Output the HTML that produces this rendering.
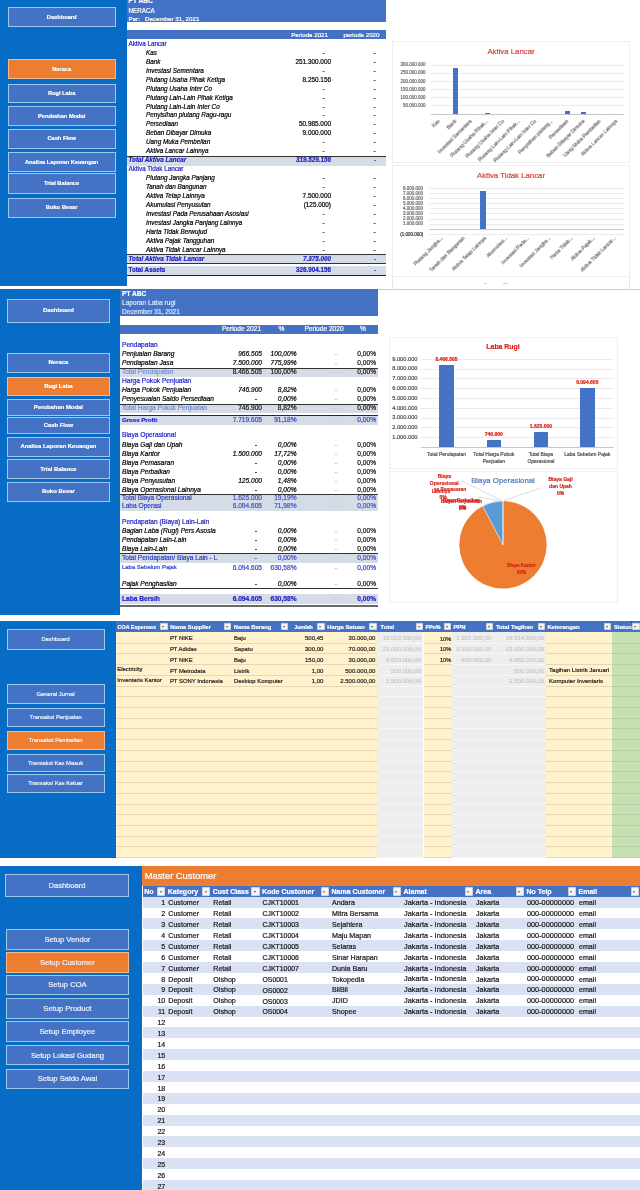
<!DOCTYPE html>
<html><head><meta charset="utf-8"><title>Dashboard</title>
<style>
html,body{margin:0;padding:0;background:#fff;}
body{width:640px;height:1190px;position:relative;overflow:hidden;font-family:"Liberation Sans",sans-serif;}
#p{position:absolute;left:0;top:0;width:640px;height:1190px;overflow:hidden;background:#fff;}
#p div,#p svg{position:absolute;}
.t{white-space:nowrap;filter:blur(0.22px);-webkit-text-stroke:0.2px;}
</style></head><body><div id="p">
<div style="left:0.00px;top:0.00px;width:126.70px;height:285.50px;background:#076cc5;"></div>
<div style="left:7.50px;top:7.00px;width:108.30px;height:20.00px;background:#4472c4;box-shadow:inset 0 0 0 1px #9fc8ee;"></div>
<div class="t" style="top:13.58px;font-size:5.7px;line-height:6.84px;color:#fff;font-weight:bold;left:7.50px;width:108.3px;text-align:center;">Dashboard</div>
<div style="left:7.50px;top:59.30px;width:108.30px;height:20.00px;background:#ed7d31;box-shadow:inset 0 0 0 1px #f6b98a;"></div>
<div class="t" style="top:65.88px;font-size:5.7px;line-height:6.84px;color:#fff;font-weight:bold;left:7.50px;width:108.3px;text-align:center;">Neraca</div>
<div style="left:7.50px;top:83.50px;width:108.30px;height:19.00px;background:#4472c4;box-shadow:inset 0 0 0 1px #9fc8ee;"></div>
<div class="t" style="top:89.58px;font-size:5.7px;line-height:6.84px;color:#fff;font-weight:bold;left:7.50px;width:108.3px;text-align:center;">Rugi Laba</div>
<div style="left:7.50px;top:106.20px;width:108.30px;height:20.00px;background:#4472c4;box-shadow:inset 0 0 0 1px #9fc8ee;"></div>
<div class="t" style="top:112.78px;font-size:5.7px;line-height:6.84px;color:#fff;font-weight:bold;left:7.50px;width:108.3px;text-align:center;">Perubahan Modal</div>
<div style="left:7.50px;top:128.60px;width:108.30px;height:20.00px;background:#4472c4;box-shadow:inset 0 0 0 1px #9fc8ee;"></div>
<div class="t" style="top:135.18px;font-size:5.7px;line-height:6.84px;color:#fff;font-weight:bold;left:7.50px;width:108.3px;text-align:center;">Cash Flow</div>
<div style="left:7.50px;top:151.80px;width:108.30px;height:20.40px;background:#4472c4;box-shadow:inset 0 0 0 1px #9fc8ee;"></div>
<div class="t" style="top:158.58px;font-size:5.7px;line-height:6.84px;color:#fff;font-weight:bold;left:7.50px;width:108.3px;text-align:center;">Analisa Laporan Keuangan</div>
<div style="left:7.50px;top:173.20px;width:108.30px;height:21.00px;background:#4472c4;box-shadow:inset 0 0 0 1px #9fc8ee;"></div>
<div class="t" style="top:180.28px;font-size:5.7px;line-height:6.84px;color:#fff;font-weight:bold;left:7.50px;width:108.3px;text-align:center;">Trial Balance</div>
<div style="left:7.50px;top:197.50px;width:108.30px;height:20.30px;background:#4472c4;box-shadow:inset 0 0 0 1px #9fc8ee;"></div>
<div class="t" style="top:204.23px;font-size:5.7px;line-height:6.84px;color:#fff;font-weight:bold;left:7.50px;width:108.3px;text-align:center;">Buku Besar</div>
<div style="left:126.50px;top:0.00px;width:259.50px;height:22.40px;background:#4472c4;"></div>
<div class="t" style="top:-2.96px;font-size:6.6px;line-height:7.92px;color:#fff;font-weight:bold;left:128.50px;">PT ABC</div>
<div class="t" style="top:6.52px;font-size:6.3px;line-height:7.56px;color:#fff;left:128.50px;">NERACA</div>
<div class="t" style="top:14.58px;font-size:6.2px;line-height:7.44px;color:#fff;left:128.50px;">Per:&nbsp;&nbsp;&nbsp;December 31, 2021</div>
<div style="left:126.50px;top:30.00px;width:259.50px;height:9.40px;background:#4472c4;"></div>
<div class="t" style="top:31.28px;font-size:6.2px;line-height:7.44px;color:#fff;right:312.00px;text-align:right;">Periode 2021</div>
<div class="t" style="top:31.28px;font-size:6.2px;line-height:7.44px;color:#fff;right:260.50px;text-align:right;">periode 2020</div>
<div class="t" style="top:39.82px;font-size:6.3px;line-height:7.56px;color:#1c1cc8;left:128.50px;">Aktiva Lancar</div>
<div class="t" style="top:48.75px;font-size:6.35px;line-height:7.62px;color:#000;font-style:italic;left:146.00px;">Kas</div>
<div class="t" style="top:48.75px;font-size:6.35px;line-height:7.62px;color:#333;right:315.50px;text-align:right;">-</div>
<div class="t" style="top:48.75px;font-size:6.35px;line-height:7.62px;color:#222;right:264.50px;text-align:right;">-</div>
<div class="t" style="top:57.71px;font-size:6.35px;line-height:7.62px;color:#000;font-style:italic;left:146.00px;">Bank</div>
<div class="t" style="top:57.68px;font-size:6.4px;line-height:7.68px;color:#000;right:309.00px;text-align:right;">251.300.000</div>
<div class="t" style="top:57.71px;font-size:6.35px;line-height:7.62px;color:#222;right:264.50px;text-align:right;">-</div>
<div class="t" style="top:66.67px;font-size:6.35px;line-height:7.62px;color:#000;font-style:italic;left:146.00px;">Investasi Sementara</div>
<div class="t" style="top:66.67px;font-size:6.35px;line-height:7.62px;color:#333;right:315.50px;text-align:right;">-</div>
<div class="t" style="top:66.67px;font-size:6.35px;line-height:7.62px;color:#222;right:264.50px;text-align:right;">-</div>
<div class="t" style="top:75.63px;font-size:6.35px;line-height:7.62px;color:#000;font-style:italic;left:146.00px;">Piutang Usaha Pihak Ketiga</div>
<div class="t" style="top:75.60px;font-size:6.4px;line-height:7.68px;color:#000;right:309.00px;text-align:right;">8.250.156</div>
<div class="t" style="top:75.63px;font-size:6.35px;line-height:7.62px;color:#222;right:264.50px;text-align:right;">-</div>
<div class="t" style="top:84.59px;font-size:6.35px;line-height:7.62px;color:#000;font-style:italic;left:146.00px;">Piutang Usaha Inter Co</div>
<div class="t" style="top:84.59px;font-size:6.35px;line-height:7.62px;color:#333;right:315.50px;text-align:right;">-</div>
<div class="t" style="top:84.59px;font-size:6.35px;line-height:7.62px;color:#222;right:264.50px;text-align:right;">-</div>
<div class="t" style="top:93.55px;font-size:6.35px;line-height:7.62px;color:#000;font-style:italic;left:146.00px;">Piutang Lain-Lain Pihak Ketiga</div>
<div class="t" style="top:93.55px;font-size:6.35px;line-height:7.62px;color:#333;right:315.50px;text-align:right;">-</div>
<div class="t" style="top:93.55px;font-size:6.35px;line-height:7.62px;color:#222;right:264.50px;text-align:right;">-</div>
<div class="t" style="top:102.51px;font-size:6.35px;line-height:7.62px;color:#000;font-style:italic;left:146.00px;">Piutang Lain-Lain Inter Co</div>
<div class="t" style="top:102.51px;font-size:6.35px;line-height:7.62px;color:#333;right:315.50px;text-align:right;">-</div>
<div class="t" style="top:102.51px;font-size:6.35px;line-height:7.62px;color:#222;right:264.50px;text-align:right;">-</div>
<div class="t" style="top:111.47px;font-size:6.35px;line-height:7.62px;color:#000;font-style:italic;left:146.00px;">Penyisihan piutang Ragu-ragu</div>
<div class="t" style="top:111.47px;font-size:6.35px;line-height:7.62px;color:#333;right:315.50px;text-align:right;">-</div>
<div class="t" style="top:111.47px;font-size:6.35px;line-height:7.62px;color:#222;right:264.50px;text-align:right;">-</div>
<div class="t" style="top:120.43px;font-size:6.35px;line-height:7.62px;color:#000;font-style:italic;left:146.00px;">Persediaan</div>
<div class="t" style="top:120.40px;font-size:6.4px;line-height:7.68px;color:#000;right:309.00px;text-align:right;">50.985.000</div>
<div class="t" style="top:120.43px;font-size:6.35px;line-height:7.62px;color:#222;right:264.50px;text-align:right;">-</div>
<div class="t" style="top:129.39px;font-size:6.35px;line-height:7.62px;color:#000;font-style:italic;left:146.00px;">Beban Dibayar Dimuka</div>
<div class="t" style="top:129.36px;font-size:6.4px;line-height:7.68px;color:#000;right:309.00px;text-align:right;">9.000.000</div>
<div class="t" style="top:129.39px;font-size:6.35px;line-height:7.62px;color:#222;right:264.50px;text-align:right;">-</div>
<div class="t" style="top:138.35px;font-size:6.35px;line-height:7.62px;color:#000;font-style:italic;left:146.00px;">Uang Muka Pembelian</div>
<div class="t" style="top:138.35px;font-size:6.35px;line-height:7.62px;color:#333;right:315.50px;text-align:right;">-</div>
<div class="t" style="top:138.35px;font-size:6.35px;line-height:7.62px;color:#222;right:264.50px;text-align:right;">-</div>
<div class="t" style="top:147.31px;font-size:6.35px;line-height:7.62px;color:#000;font-style:italic;left:146.00px;">Aktiva Lancar Lainnya</div>
<div class="t" style="top:147.31px;font-size:6.35px;line-height:7.62px;color:#333;right:315.50px;text-align:right;">-</div>
<div class="t" style="top:147.31px;font-size:6.35px;line-height:7.62px;color:#222;right:264.50px;text-align:right;">-</div>
<div style="left:126.60px;top:155.68px;width:259.00px;height:8.90px;background:#d6dce6;border-top:0.7px solid #333;"></div>
<div class="t" style="top:156.30px;font-size:6.3px;line-height:7.56px;color:#1c1cc8;font-weight:bold;font-style:italic;left:128.50px;">Total Aktiva Lancar</div>
<div class="t" style="top:156.30px;font-size:6.3px;line-height:7.56px;color:#1c1cc8;font-weight:bold;font-style:italic;right:309.00px;text-align:right;">319.529.156</div>
<div class="t" style="top:156.42px;font-size:6.1px;line-height:7.32px;color:#1c1cc8;right:264.00px;text-align:right;">-</div>
<div class="t" style="top:165.26px;font-size:6.3px;line-height:7.56px;color:#1c1cc8;left:128.50px;">Aktiva Tidak Lancar</div>
<div class="t" style="top:174.19px;font-size:6.35px;line-height:7.62px;color:#000;font-style:italic;left:146.00px;">Piutang Jangka Panjang</div>
<div class="t" style="top:174.19px;font-size:6.35px;line-height:7.62px;color:#333;right:315.50px;text-align:right;">-</div>
<div class="t" style="top:174.19px;font-size:6.35px;line-height:7.62px;color:#222;right:264.50px;text-align:right;">-</div>
<div class="t" style="top:183.15px;font-size:6.35px;line-height:7.62px;color:#000;font-style:italic;left:146.00px;">Tanah dan Bangunan</div>
<div class="t" style="top:183.15px;font-size:6.35px;line-height:7.62px;color:#333;right:315.50px;text-align:right;">-</div>
<div class="t" style="top:183.15px;font-size:6.35px;line-height:7.62px;color:#222;right:264.50px;text-align:right;">-</div>
<div class="t" style="top:192.11px;font-size:6.35px;line-height:7.62px;color:#000;font-style:italic;left:146.00px;">Aktiva Tetap Lainnya</div>
<div class="t" style="top:192.08px;font-size:6.4px;line-height:7.68px;color:#000;right:309.00px;text-align:right;">7.500.000</div>
<div class="t" style="top:192.11px;font-size:6.35px;line-height:7.62px;color:#222;right:264.50px;text-align:right;">-</div>
<div class="t" style="top:201.07px;font-size:6.35px;line-height:7.62px;color:#000;font-style:italic;left:146.00px;">Akumulasi Penyusutan</div>
<div class="t" style="top:201.04px;font-size:6.4px;line-height:7.68px;color:#000;right:309.00px;text-align:right;">(125.000)</div>
<div class="t" style="top:201.07px;font-size:6.35px;line-height:7.62px;color:#222;right:264.50px;text-align:right;">-</div>
<div class="t" style="top:210.03px;font-size:6.35px;line-height:7.62px;color:#000;font-style:italic;left:146.00px;">Investasi Pada Perusahaan Asosiasi</div>
<div class="t" style="top:210.03px;font-size:6.35px;line-height:7.62px;color:#333;right:315.50px;text-align:right;">-</div>
<div class="t" style="top:210.03px;font-size:6.35px;line-height:7.62px;color:#222;right:264.50px;text-align:right;">-</div>
<div class="t" style="top:218.99px;font-size:6.35px;line-height:7.62px;color:#000;font-style:italic;left:146.00px;">Investasi Jangka Panjang Lainnya</div>
<div class="t" style="top:218.99px;font-size:6.35px;line-height:7.62px;color:#333;right:315.50px;text-align:right;">-</div>
<div class="t" style="top:218.99px;font-size:6.35px;line-height:7.62px;color:#222;right:264.50px;text-align:right;">-</div>
<div class="t" style="top:227.95px;font-size:6.35px;line-height:7.62px;color:#000;font-style:italic;left:146.00px;">Harta Tidak Berwujud</div>
<div class="t" style="top:227.95px;font-size:6.35px;line-height:7.62px;color:#333;right:315.50px;text-align:right;">-</div>
<div class="t" style="top:227.95px;font-size:6.35px;line-height:7.62px;color:#222;right:264.50px;text-align:right;">-</div>
<div class="t" style="top:236.91px;font-size:6.35px;line-height:7.62px;color:#000;font-style:italic;left:146.00px;">Aktiva Pajak Tangguhan</div>
<div class="t" style="top:236.91px;font-size:6.35px;line-height:7.62px;color:#333;right:315.50px;text-align:right;">-</div>
<div class="t" style="top:236.91px;font-size:6.35px;line-height:7.62px;color:#222;right:264.50px;text-align:right;">-</div>
<div class="t" style="top:245.87px;font-size:6.35px;line-height:7.62px;color:#000;font-style:italic;left:146.00px;">Aktiva Tidak Lancar Lainnya</div>
<div class="t" style="top:245.87px;font-size:6.35px;line-height:7.62px;color:#333;right:315.50px;text-align:right;">-</div>
<div class="t" style="top:245.87px;font-size:6.35px;line-height:7.62px;color:#222;right:264.50px;text-align:right;">-</div>
<div style="left:126.60px;top:254.24px;width:259.00px;height:8.90px;background:#d6dce6;border-top:0.7px solid #333;"></div>
<div class="t" style="top:254.86px;font-size:6.3px;line-height:7.56px;color:#1c1cc8;font-weight:bold;font-style:italic;left:128.50px;">Total Aktiva Tidak Lancar</div>
<div class="t" style="top:254.86px;font-size:6.3px;line-height:7.56px;color:#1c1cc8;font-weight:bold;font-style:italic;right:309.00px;text-align:right;">7.375.000</div>
<div class="t" style="top:254.98px;font-size:6.1px;line-height:7.32px;color:#1c1cc8;right:264.00px;text-align:right;">-</div>
<div style="left:126.60px;top:263.30px;width:259.00px;height:2.20px;background:#fff;border-top:0.7px solid #333;"></div>
<div style="left:126.60px;top:265.50px;width:259.00px;height:9.50px;background:#d6dce6;border-bottom:1.2px solid #222;"></div>
<div class="t" style="top:266.22px;font-size:6.3px;line-height:7.56px;color:#1c1cc8;font-weight:bold;left:128.50px;">Total Assets</div>
<div class="t" style="top:266.22px;font-size:6.3px;line-height:7.56px;color:#1c1cc8;font-weight:bold;right:309.00px;text-align:right;">326.904.156</div>
<div class="t" style="top:266.34px;font-size:6.1px;line-height:7.32px;color:#1c1cc8;right:264.00px;text-align:right;">-</div>
<div style="left:391.50px;top:40.50px;width:238.50px;height:122.00px;background:#fff;box-shadow:inset 0 0 0 0.6px #e4e4e4;"></div>
<div class="t" style="top:47.32px;font-size:7.8px;line-height:9.36px;color:#cf453c;left:411.00px;width:200px;text-align:center;">Aktiva Lancar</div>
<div class="t" style="top:62.30px;font-size:4.5px;line-height:5.40px;color:#6a6a6a;right:214.50px;text-align:right;">300.000.000</div>
<div style="left:431.00px;top:64.75px;width:193.00px;height:0.50px;background:#ebebeb;"></div>
<div class="t" style="top:70.43px;font-size:4.5px;line-height:5.40px;color:#6a6a6a;right:214.50px;text-align:right;">250.000.000</div>
<div style="left:431.00px;top:72.88px;width:193.00px;height:0.50px;background:#ebebeb;"></div>
<div class="t" style="top:78.56px;font-size:4.5px;line-height:5.40px;color:#6a6a6a;right:214.50px;text-align:right;">200.000.000</div>
<div style="left:431.00px;top:81.01px;width:193.00px;height:0.50px;background:#ebebeb;"></div>
<div class="t" style="top:86.69px;font-size:4.5px;line-height:5.40px;color:#6a6a6a;right:214.50px;text-align:right;">150.000.000</div>
<div style="left:431.00px;top:89.14px;width:193.00px;height:0.50px;background:#ebebeb;"></div>
<div class="t" style="top:94.82px;font-size:4.5px;line-height:5.40px;color:#6a6a6a;right:214.50px;text-align:right;">100.000.000</div>
<div style="left:431.00px;top:97.27px;width:193.00px;height:0.50px;background:#ebebeb;"></div>
<div class="t" style="top:102.95px;font-size:4.5px;line-height:5.40px;color:#6a6a6a;right:214.50px;text-align:right;">50.000.000</div>
<div style="left:431.00px;top:105.40px;width:193.00px;height:0.50px;background:#ebebeb;"></div>
<div style="left:431.00px;top:113.60px;width:193.00px;height:0.50px;background:#c8c8c8;"></div>
<div style="left:452.62px;top:68.30px;width:5.00px;height:45.50px;background:#4472c4;"></div>
<div style="left:484.79px;top:113.00px;width:5.00px;height:0.80px;background:#4472c4;"></div>
<div style="left:565.21px;top:110.60px;width:5.00px;height:3.20px;background:#4472c4;"></div>
<div style="left:581.29px;top:112.30px;width:5.00px;height:1.50px;background:#4472c4;"></div>
<div class="t" style="right:203.16px;top:117.80px;font-size:5.0px;line-height:6.00px;color:#707070;transform-origin:100% 0;transform:rotate(-45deg);">Kas</div>
<div class="t" style="right:187.07px;top:117.80px;font-size:5.0px;line-height:6.00px;color:#707070;transform-origin:100% 0;transform:rotate(-45deg);">Bank</div>
<div class="t" style="right:170.99px;top:117.80px;font-size:5.0px;line-height:6.00px;color:#707070;transform-origin:100% 0;transform:rotate(-45deg);">Investasi Sementara</div>
<div class="t" style="right:154.91px;top:117.80px;font-size:5.0px;line-height:6.00px;color:#707070;transform-origin:100% 0;transform:rotate(-45deg);">Piutang Usaha Pihak...</div>
<div class="t" style="right:138.82px;top:117.80px;font-size:5.0px;line-height:6.00px;color:#707070;transform-origin:100% 0;transform:rotate(-45deg);">Piutang Usaha Inter Co</div>
<div class="t" style="right:122.74px;top:117.80px;font-size:5.0px;line-height:6.00px;color:#707070;transform-origin:100% 0;transform:rotate(-45deg);">Piutang Lain-Lain Pihak...</div>
<div class="t" style="right:106.66px;top:117.80px;font-size:5.0px;line-height:6.00px;color:#707070;transform-origin:100% 0;transform:rotate(-45deg);">Piutang Lain-Lain Inter Co</div>
<div class="t" style="right:90.58px;top:117.80px;font-size:5.0px;line-height:6.00px;color:#707070;transform-origin:100% 0;transform:rotate(-45deg);">Penyisihan piutang...</div>
<div class="t" style="right:74.49px;top:117.80px;font-size:5.0px;line-height:6.00px;color:#707070;transform-origin:100% 0;transform:rotate(-45deg);">Persediaan</div>
<div class="t" style="right:58.41px;top:117.80px;font-size:5.0px;line-height:6.00px;color:#707070;transform-origin:100% 0;transform:rotate(-45deg);">Beban Dibayar Dimuka</div>
<div class="t" style="right:42.33px;top:117.80px;font-size:5.0px;line-height:6.00px;color:#707070;transform-origin:100% 0;transform:rotate(-45deg);">Uang Muka Pembelian</div>
<div class="t" style="right:26.24px;top:117.80px;font-size:5.0px;line-height:6.00px;color:#707070;transform-origin:100% 0;transform:rotate(-45deg);">Aktiva Lancar Lainnya</div>
<div style="left:391.50px;top:164.50px;width:238.50px;height:112.00px;background:#fff;box-shadow:inset 0 0 0 0.6px #e4e4e4;"></div>
<div class="t" style="top:171.32px;font-size:7.8px;line-height:9.36px;color:#cf453c;left:411.00px;width:200px;text-align:center;">Aktiva Tidak Lancar</div>
<div class="t" style="top:185.50px;font-size:4.5px;line-height:5.40px;color:#6a6a6a;right:217.00px;text-align:right;">8.000.000</div>
<div style="left:429.00px;top:187.95px;width:195.00px;height:0.50px;background:#ebebeb;"></div>
<div class="t" style="top:190.60px;font-size:4.5px;line-height:5.40px;color:#6a6a6a;right:217.00px;text-align:right;">7.000.000</div>
<div style="left:429.00px;top:193.05px;width:195.00px;height:0.50px;background:#ebebeb;"></div>
<div class="t" style="top:195.70px;font-size:4.5px;line-height:5.40px;color:#6a6a6a;right:217.00px;text-align:right;">6.000.000</div>
<div style="left:429.00px;top:198.15px;width:195.00px;height:0.50px;background:#ebebeb;"></div>
<div class="t" style="top:200.80px;font-size:4.5px;line-height:5.40px;color:#6a6a6a;right:217.00px;text-align:right;">5.000.000</div>
<div style="left:429.00px;top:203.25px;width:195.00px;height:0.50px;background:#ebebeb;"></div>
<div class="t" style="top:205.90px;font-size:4.5px;line-height:5.40px;color:#6a6a6a;right:217.00px;text-align:right;">4.000.000</div>
<div style="left:429.00px;top:208.35px;width:195.00px;height:0.50px;background:#ebebeb;"></div>
<div class="t" style="top:211.00px;font-size:4.5px;line-height:5.40px;color:#6a6a6a;right:217.00px;text-align:right;">3.000.000</div>
<div style="left:429.00px;top:213.45px;width:195.00px;height:0.50px;background:#ebebeb;"></div>
<div class="t" style="top:216.10px;font-size:4.5px;line-height:5.40px;color:#6a6a6a;right:217.00px;text-align:right;">2.000.000</div>
<div style="left:429.00px;top:218.55px;width:195.00px;height:0.50px;background:#ebebeb;"></div>
<div class="t" style="top:221.20px;font-size:4.5px;line-height:5.40px;color:#6a6a6a;right:217.00px;text-align:right;">1.000.000</div>
<div style="left:429.00px;top:223.65px;width:195.00px;height:0.50px;background:#ebebeb;"></div>
<div style="left:429.00px;top:228.80px;width:195.00px;height:0.50px;background:#c8c8c8;"></div>
<div class="t" style="top:231.60px;font-size:4.5px;line-height:5.40px;color:#333;right:216.70px;text-align:right;">(1.000.000)</div>
<div style="left:429.00px;top:234.10px;width:195.00px;height:0.50px;background:#ebebeb;"></div>
<div style="left:480.07px;top:191.00px;width:6.20px;height:38.00px;background:#4472c4;"></div>
<div style="left:501.73px;top:229.00px;width:6.20px;height:0.70px;background:#b9c9e8;"></div>
<div class="t" style="right:200.47px;top:235.40px;font-size:5.0px;line-height:6.00px;color:#707070;transform-origin:100% 0;transform:rotate(-45deg);">Piutang Jangka...</div>
<div class="t" style="right:178.80px;top:235.40px;font-size:5.0px;line-height:6.00px;color:#707070;transform-origin:100% 0;transform:rotate(-45deg);">Tanah dan Bangunan</div>
<div class="t" style="right:157.13px;top:235.40px;font-size:5.0px;line-height:6.00px;color:#707070;transform-origin:100% 0;transform:rotate(-45deg);">Aktiva Tetap Lainnya</div>
<div class="t" style="right:135.47px;top:235.40px;font-size:5.0px;line-height:6.00px;color:#707070;transform-origin:100% 0;transform:rotate(-45deg);">Akumulasi...</div>
<div class="t" style="right:113.80px;top:235.40px;font-size:5.0px;line-height:6.00px;color:#707070;transform-origin:100% 0;transform:rotate(-45deg);">Investasi Pada...</div>
<div class="t" style="right:92.13px;top:235.40px;font-size:5.0px;line-height:6.00px;color:#707070;transform-origin:100% 0;transform:rotate(-45deg);">Investasi Jangka...</div>
<div class="t" style="right:70.47px;top:235.40px;font-size:5.0px;line-height:6.00px;color:#707070;transform-origin:100% 0;transform:rotate(-45deg);">Harta Tidak...</div>
<div class="t" style="right:48.80px;top:235.40px;font-size:5.0px;line-height:6.00px;color:#707070;transform-origin:100% 0;transform:rotate(-45deg);">Aktiva Pajak...</div>
<div class="t" style="right:27.13px;top:235.40px;font-size:5.0px;line-height:6.00px;color:#707070;transform-origin:100% 0;transform:rotate(-45deg);">Aktiva Tidak Lancar...</div>
<div style="left:378.00px;top:289.00px;width:262.00px;height:0.70px;background:#cdcdcd;"></div>
<div style="left:391.50px;top:276.00px;width:0.60px;height:13.00px;background:#e6e6e6;"></div>
<div style="left:629.40px;top:276.00px;width:0.60px;height:13.00px;background:#e6e6e6;"></div>
<div style="left:484.00px;top:283.40px;width:3.00px;height:0.60px;background:#d0d0d0;"></div>
<div style="left:503.00px;top:283.40px;width:5.00px;height:0.60px;background:#d0d0d0;"></div>
<div style="left:0.00px;top:289.30px;width:120.30px;height:326.20px;background:#076cc5;"></div>
<div style="left:6.60px;top:299.00px;width:103.60px;height:23.50px;background:#4472c4;box-shadow:inset 0 0 0 1px #9fc8ee;"></div>
<div class="t" style="top:307.21px;font-size:5.9px;line-height:7.08px;color:#fff;font-weight:bold;left:6.60px;width:103.6px;text-align:center;">Dashboard</div>
<div style="left:6.60px;top:352.50px;width:103.60px;height:20.50px;background:#4472c4;box-shadow:inset 0 0 0 1px #9fc8ee;"></div>
<div class="t" style="top:359.21px;font-size:5.9px;line-height:7.08px;color:#fff;font-weight:bold;left:6.60px;width:103.6px;text-align:center;">Neraca</div>
<div style="left:6.60px;top:376.50px;width:103.60px;height:19.50px;background:#ed7d31;box-shadow:inset 0 0 0 1px #f6b98a;"></div>
<div class="t" style="top:382.71px;font-size:5.9px;line-height:7.08px;color:#fff;font-weight:bold;left:6.60px;width:103.6px;text-align:center;">Rugi Laba</div>
<div style="left:6.60px;top:399.10px;width:103.60px;height:16.50px;background:#4472c4;box-shadow:inset 0 0 0 1px #9fc8ee;"></div>
<div class="t" style="top:403.81px;font-size:5.9px;line-height:7.08px;color:#fff;font-weight:bold;left:6.60px;width:103.6px;text-align:center;">Perubahan Modal</div>
<div style="left:6.60px;top:417.20px;width:103.60px;height:17.30px;background:#4472c4;box-shadow:inset 0 0 0 1px #9fc8ee;"></div>
<div class="t" style="top:422.31px;font-size:5.9px;line-height:7.08px;color:#fff;font-weight:bold;left:6.60px;width:103.6px;text-align:center;">Cash Flow</div>
<div style="left:6.60px;top:436.70px;width:103.60px;height:19.90px;background:#4472c4;box-shadow:inset 0 0 0 1px #9fc8ee;"></div>
<div class="t" style="top:443.11px;font-size:5.9px;line-height:7.08px;color:#fff;font-weight:bold;left:6.60px;width:103.6px;text-align:center;">Analisa Laporan Keuangan</div>
<div style="left:6.60px;top:459.00px;width:103.60px;height:20.30px;background:#4472c4;box-shadow:inset 0 0 0 1px #9fc8ee;"></div>
<div class="t" style="top:465.61px;font-size:5.9px;line-height:7.08px;color:#fff;font-weight:bold;left:6.60px;width:103.6px;text-align:center;">Trial Balance</div>
<div style="left:6.60px;top:481.80px;width:103.60px;height:20.40px;background:#4472c4;box-shadow:inset 0 0 0 1px #9fc8ee;"></div>
<div class="t" style="top:488.46px;font-size:5.9px;line-height:7.08px;color:#fff;font-weight:bold;left:6.60px;width:103.6px;text-align:center;">Buku Besar</div>
<div style="left:120.30px;top:289.20px;width:257.70px;height:26.50px;background:#4472c4;"></div>
<div class="t" style="top:289.94px;font-size:6.6px;line-height:7.92px;color:#fff;font-weight:bold;left:122.00px;">PT ABC</div>
<div class="t" style="top:299.24px;font-size:6.6px;line-height:7.92px;color:#dbe7f7;left:122.00px;">Laporan Laba rugi</div>
<div class="t" style="top:307.74px;font-size:6.6px;line-height:7.92px;color:#dbe7f7;left:122.00px;">December 31, 2021</div>
<div style="left:120.30px;top:325.10px;width:257.70px;height:8.60px;background:#4472c4;"></div>
<div class="t" style="top:325.34px;font-size:6.6px;line-height:7.92px;color:#fff;left:141.50px;width:200px;text-align:center;">Periode 2021</div>
<div class="t" style="top:325.34px;font-size:6.6px;line-height:7.92px;color:#fff;left:181.50px;width:200px;text-align:center;">%</div>
<div class="t" style="top:325.34px;font-size:6.6px;line-height:7.92px;color:#fff;left:224.00px;width:200px;text-align:center;">Periode 2020</div>
<div class="t" style="top:325.34px;font-size:6.6px;line-height:7.92px;color:#fff;left:263.00px;width:200px;text-align:center;">%</div>
<div class="t" style="top:341.04px;font-size:6.6px;line-height:7.92px;color:#1c1cc8;left:122.00px;">Pendapatan</div>
<div class="t" style="top:349.74px;font-size:6.6px;line-height:7.92px;color:#000;font-style:italic;left:122.00px;">Penjualan Barang</div>
<div class="t" style="top:349.74px;font-size:6.6px;line-height:7.92px;color:#000;font-style:italic;right:378.00px;text-align:right;">966.505</div>
<div class="t" style="top:349.74px;font-size:6.6px;line-height:7.92px;color:#000;font-style:italic;right:343.50px;text-align:right;">100,00%</div>
<div class="t" style="top:349.74px;font-size:6.6px;line-height:7.92px;color:#b5b5b5;right:303.00px;text-align:right;">-</div>
<div class="t" style="top:349.74px;font-size:6.6px;line-height:7.92px;color:#111;right:264.00px;text-align:right;">0,00%</div>
<div class="t" style="top:358.84px;font-size:6.6px;line-height:7.92px;color:#000;font-style:italic;left:122.00px;">Pendapatan Jasa</div>
<div class="t" style="top:358.84px;font-size:6.6px;line-height:7.92px;color:#000;font-style:italic;right:378.00px;text-align:right;">7.500.000</div>
<div class="t" style="top:358.84px;font-size:6.6px;line-height:7.92px;color:#000;font-style:italic;right:343.50px;text-align:right;">775,99%</div>
<div class="t" style="top:358.84px;font-size:6.6px;line-height:7.92px;color:#b5b5b5;right:303.00px;text-align:right;">-</div>
<div class="t" style="top:358.84px;font-size:6.6px;line-height:7.92px;color:#111;right:264.00px;text-align:right;">0,00%</div>
<div style="left:120.30px;top:367.60px;width:257.70px;height:8.60px;background:#d6dce6;border-top:0.7px solid #333;"></div>
<div class="t" style="top:368.04px;font-size:6.6px;line-height:7.92px;color:#6b90dc;left:122.00px;">Total Pendapatan</div>
<div class="t" style="top:368.04px;font-size:6.6px;line-height:7.92px;color:#1a1a1a;right:378.00px;text-align:right;">8.466.505</div>
<div class="t" style="top:368.04px;font-size:6.6px;line-height:7.92px;color:#1a1a1a;right:343.50px;text-align:right;">100,00%</div>
<div class="t" style="top:368.04px;font-size:6.6px;line-height:7.92px;color:#b5b5b5;right:303.00px;text-align:right;">-</div>
<div class="t" style="top:368.04px;font-size:6.6px;line-height:7.92px;color:#1a1a1a;right:264.00px;text-align:right;">0,00%</div>
<div class="t" style="top:377.04px;font-size:6.6px;line-height:7.92px;color:#1c1cc8;left:122.00px;">Harga Pokok Penjualan</div>
<div class="t" style="top:386.34px;font-size:6.6px;line-height:7.92px;color:#000;font-style:italic;left:122.00px;">Harga Pokok Penjualan</div>
<div class="t" style="top:386.34px;font-size:6.6px;line-height:7.92px;color:#000;font-style:italic;right:378.00px;text-align:right;">746.900</div>
<div class="t" style="top:386.34px;font-size:6.6px;line-height:7.92px;color:#000;font-style:italic;right:343.50px;text-align:right;">8,82%</div>
<div class="t" style="top:386.34px;font-size:6.6px;line-height:7.92px;color:#b5b5b5;right:303.00px;text-align:right;">-</div>
<div class="t" style="top:386.34px;font-size:6.6px;line-height:7.92px;color:#111;right:264.00px;text-align:right;">0,00%</div>
<div class="t" style="top:395.44px;font-size:6.6px;line-height:7.92px;color:#000;font-style:italic;left:122.00px;">Penyesuaian Saldo Persediaan</div>
<div class="t" style="top:395.44px;font-size:6.6px;line-height:7.92px;color:#000;font-style:italic;right:383.00px;text-align:right;">-</div>
<div class="t" style="top:395.44px;font-size:6.6px;line-height:7.92px;color:#000;font-style:italic;right:343.50px;text-align:right;">0,00%</div>
<div class="t" style="top:395.44px;font-size:6.6px;line-height:7.92px;color:#b5b5b5;right:303.00px;text-align:right;">-</div>
<div class="t" style="top:395.44px;font-size:6.6px;line-height:7.92px;color:#111;right:264.00px;text-align:right;">0,00%</div>
<div style="left:120.30px;top:404.00px;width:257.70px;height:8.60px;background:#d6dce6;border-top:0.7px solid #333;"></div>
<div class="t" style="top:404.44px;font-size:6.6px;line-height:7.92px;color:#6b90dc;left:122.00px;">Total Harga Pokok Penjualan</div>
<div class="t" style="top:404.44px;font-size:6.6px;line-height:7.92px;color:#1a1a1a;right:378.00px;text-align:right;">746.900</div>
<div class="t" style="top:404.44px;font-size:6.6px;line-height:7.92px;color:#1a1a1a;right:343.50px;text-align:right;">8,82%</div>
<div class="t" style="top:404.44px;font-size:6.6px;line-height:7.92px;color:#b5b5b5;right:303.00px;text-align:right;">-</div>
<div class="t" style="top:404.44px;font-size:6.6px;line-height:7.92px;color:#1a1a1a;right:264.00px;text-align:right;">0,00%</div>
<div style="left:120.30px;top:412.90px;width:257.70px;height:2.00px;background:#fff;"></div>
<div style="left:120.30px;top:414.90px;width:257.70px;height:9.20px;background:#d6dce6;border-top:1.1px solid #2a2a2a;"></div>
<div class="t" style="top:415.84px;font-size:6.1px;line-height:7.32px;color:#1c1cc8;font-weight:bold;left:122.00px;">Gross Profit</div>
<div class="t" style="top:415.54px;font-size:6.6px;line-height:7.92px;color:#3346cc;right:378.00px;text-align:right;">7.719.605</div>
<div class="t" style="top:415.54px;font-size:6.6px;line-height:7.92px;color:#3346cc;right:343.50px;text-align:right;">91,18%</div>
<div class="t" style="top:415.54px;font-size:6.6px;line-height:7.92px;color:#b5b5b5;right:303.00px;text-align:right;">-</div>
<div class="t" style="top:415.54px;font-size:6.6px;line-height:7.92px;color:#3346cc;right:264.00px;text-align:right;">0,00%</div>
<div class="t" style="top:431.34px;font-size:6.6px;line-height:7.92px;color:#1c1cc8;left:122.00px;">Biaya Operasional</div>
<div class="t" style="top:440.54px;font-size:6.6px;line-height:7.92px;color:#000;font-style:italic;left:122.00px;">Biaya Gaji dan Upah</div>
<div class="t" style="top:440.54px;font-size:6.6px;line-height:7.92px;color:#000;font-style:italic;right:383.00px;text-align:right;">-</div>
<div class="t" style="top:440.54px;font-size:6.6px;line-height:7.92px;color:#000;font-style:italic;right:343.50px;text-align:right;">0,00%</div>
<div class="t" style="top:440.54px;font-size:6.6px;line-height:7.92px;color:#b5b5b5;right:303.00px;text-align:right;">-</div>
<div class="t" style="top:440.54px;font-size:6.6px;line-height:7.92px;color:#111;right:264.00px;text-align:right;">0,00%</div>
<div class="t" style="top:449.64px;font-size:6.6px;line-height:7.92px;color:#000;font-style:italic;left:122.00px;">Biaya Kantor</div>
<div class="t" style="top:449.64px;font-size:6.6px;line-height:7.92px;color:#000;font-style:italic;right:378.00px;text-align:right;">1.500.000</div>
<div class="t" style="top:449.64px;font-size:6.6px;line-height:7.92px;color:#000;font-style:italic;right:343.50px;text-align:right;">17,72%</div>
<div class="t" style="top:449.64px;font-size:6.6px;line-height:7.92px;color:#b5b5b5;right:303.00px;text-align:right;">-</div>
<div class="t" style="top:449.64px;font-size:6.6px;line-height:7.92px;color:#111;right:264.00px;text-align:right;">0,00%</div>
<div class="t" style="top:458.64px;font-size:6.6px;line-height:7.92px;color:#000;font-style:italic;left:122.00px;">Biaya Pemasaran</div>
<div class="t" style="top:458.64px;font-size:6.6px;line-height:7.92px;color:#000;font-style:italic;right:383.00px;text-align:right;">-</div>
<div class="t" style="top:458.64px;font-size:6.6px;line-height:7.92px;color:#000;font-style:italic;right:343.50px;text-align:right;">0,00%</div>
<div class="t" style="top:458.64px;font-size:6.6px;line-height:7.92px;color:#b5b5b5;right:303.00px;text-align:right;">-</div>
<div class="t" style="top:458.64px;font-size:6.6px;line-height:7.92px;color:#111;right:264.00px;text-align:right;">0,00%</div>
<div class="t" style="top:467.64px;font-size:6.6px;line-height:7.92px;color:#000;font-style:italic;left:122.00px;">Biaya Perbaikan</div>
<div class="t" style="top:467.64px;font-size:6.6px;line-height:7.92px;color:#000;font-style:italic;right:383.00px;text-align:right;">-</div>
<div class="t" style="top:467.64px;font-size:6.6px;line-height:7.92px;color:#000;font-style:italic;right:343.50px;text-align:right;">0,00%</div>
<div class="t" style="top:467.64px;font-size:6.6px;line-height:7.92px;color:#b5b5b5;right:303.00px;text-align:right;">-</div>
<div class="t" style="top:467.64px;font-size:6.6px;line-height:7.92px;color:#111;right:264.00px;text-align:right;">0,00%</div>
<div class="t" style="top:476.64px;font-size:6.6px;line-height:7.92px;color:#000;font-style:italic;left:122.00px;">Biaya Penyusutan</div>
<div class="t" style="top:476.64px;font-size:6.6px;line-height:7.92px;color:#000;font-style:italic;right:378.00px;text-align:right;">125.000</div>
<div class="t" style="top:476.64px;font-size:6.6px;line-height:7.92px;color:#000;font-style:italic;right:343.50px;text-align:right;">1,48%</div>
<div class="t" style="top:476.64px;font-size:6.6px;line-height:7.92px;color:#b5b5b5;right:303.00px;text-align:right;">-</div>
<div class="t" style="top:476.64px;font-size:6.6px;line-height:7.92px;color:#111;right:264.00px;text-align:right;">0,00%</div>
<div class="t" style="top:485.64px;font-size:6.6px;line-height:7.92px;color:#000;font-style:italic;left:122.00px;">Biaya Operasional Lainnya</div>
<div class="t" style="top:485.64px;font-size:6.6px;line-height:7.92px;color:#000;font-style:italic;right:383.00px;text-align:right;">-</div>
<div class="t" style="top:485.64px;font-size:6.6px;line-height:7.92px;color:#000;font-style:italic;right:343.50px;text-align:right;">0,00%</div>
<div class="t" style="top:485.64px;font-size:6.6px;line-height:7.92px;color:#b5b5b5;right:303.00px;text-align:right;">-</div>
<div class="t" style="top:485.64px;font-size:6.6px;line-height:7.92px;color:#111;right:264.00px;text-align:right;">0,00%</div>
<div style="left:120.30px;top:493.80px;width:257.70px;height:8.60px;background:#d6dce6;border-top:0.7px solid #333;"></div>
<div class="t" style="top:494.24px;font-size:6.6px;line-height:7.92px;color:#2d3fc4;left:122.00px;">Total Biaya Operasional</div>
<div class="t" style="top:494.24px;font-size:6.6px;line-height:7.92px;color:#3b4fc8;right:378.00px;text-align:right;">1.625.000</div>
<div class="t" style="top:494.24px;font-size:6.6px;line-height:7.92px;color:#3b4fc8;right:343.50px;text-align:right;">19,19%</div>
<div class="t" style="top:494.24px;font-size:6.6px;line-height:7.92px;color:#b5b5b5;right:303.00px;text-align:right;">-</div>
<div class="t" style="top:494.24px;font-size:6.6px;line-height:7.92px;color:#3b4fc8;right:264.00px;text-align:right;">0,00%</div>
<div style="left:120.30px;top:502.20px;width:257.70px;height:8.60px;background:#d6dce6;"></div>
<div class="t" style="top:502.44px;font-size:6.6px;line-height:7.92px;color:#2d3fc4;left:122.00px;">Laba Operasi</div>
<div class="t" style="top:502.44px;font-size:6.6px;line-height:7.92px;color:#3b4fc8;right:378.00px;text-align:right;">6.094.605</div>
<div class="t" style="top:502.44px;font-size:6.6px;line-height:7.92px;color:#3b4fc8;right:343.50px;text-align:right;">71,98%</div>
<div class="t" style="top:502.44px;font-size:6.6px;line-height:7.92px;color:#b5b5b5;right:303.00px;text-align:right;">-</div>
<div class="t" style="top:502.44px;font-size:6.6px;line-height:7.92px;color:#3b4fc8;right:264.00px;text-align:right;">0,00%</div>
<div class="t" style="top:517.64px;font-size:6.6px;line-height:7.92px;color:#1c1cc8;left:122.00px;">Pendapatan (Biaya) Lain-Lain</div>
<div class="t" style="top:527.04px;font-size:6.6px;line-height:7.92px;color:#000;font-style:italic;left:122.00px;">Bagian Laba (Rugi) Pers Asosia</div>
<div class="t" style="top:527.04px;font-size:6.6px;line-height:7.92px;color:#000;font-style:italic;right:383.00px;text-align:right;">-</div>
<div class="t" style="top:527.04px;font-size:6.6px;line-height:7.92px;color:#000;font-style:italic;right:343.50px;text-align:right;">0,00%</div>
<div class="t" style="top:527.04px;font-size:6.6px;line-height:7.92px;color:#b5b5b5;right:303.00px;text-align:right;">-</div>
<div class="t" style="top:527.04px;font-size:6.6px;line-height:7.92px;color:#111;right:264.00px;text-align:right;">0,00%</div>
<div class="t" style="top:536.04px;font-size:6.6px;line-height:7.92px;color:#000;font-style:italic;left:122.00px;">Pendapatan Lain-Lain</div>
<div class="t" style="top:536.04px;font-size:6.6px;line-height:7.92px;color:#000;font-style:italic;right:383.00px;text-align:right;">-</div>
<div class="t" style="top:536.04px;font-size:6.6px;line-height:7.92px;color:#000;font-style:italic;right:343.50px;text-align:right;">0,00%</div>
<div class="t" style="top:536.04px;font-size:6.6px;line-height:7.92px;color:#b5b5b5;right:303.00px;text-align:right;">-</div>
<div class="t" style="top:536.04px;font-size:6.6px;line-height:7.92px;color:#111;right:264.00px;text-align:right;">0,00%</div>
<div class="t" style="top:545.04px;font-size:6.6px;line-height:7.92px;color:#000;font-style:italic;left:122.00px;">Biaya Lain-Lain</div>
<div class="t" style="top:545.04px;font-size:6.6px;line-height:7.92px;color:#000;font-style:italic;right:383.00px;text-align:right;">-</div>
<div class="t" style="top:545.04px;font-size:6.6px;line-height:7.92px;color:#000;font-style:italic;right:343.50px;text-align:right;">0,00%</div>
<div class="t" style="top:545.04px;font-size:6.6px;line-height:7.92px;color:#b5b5b5;right:303.00px;text-align:right;">-</div>
<div class="t" style="top:545.04px;font-size:6.6px;line-height:7.92px;color:#111;right:264.00px;text-align:right;">0,00%</div>
<div style="left:120.30px;top:553.20px;width:257.70px;height:8.60px;background:#d6dce6;border-top:0.7px solid #333;"></div>
<div class="t" style="top:553.64px;font-size:6.6px;line-height:7.92px;color:#2d3fc4;left:122.00px;">Total Pendapatan/ Biaya Lain - L</div>
<div class="t" style="top:553.64px;font-size:6.6px;line-height:7.92px;color:#3b4fc8;right:383.00px;text-align:right;">-</div>
<div class="t" style="top:553.64px;font-size:6.6px;line-height:7.92px;color:#3b4fc8;right:343.50px;text-align:right;">0,00%</div>
<div class="t" style="top:553.64px;font-size:6.6px;line-height:7.92px;color:#b5b5b5;right:303.00px;text-align:right;">-</div>
<div class="t" style="top:553.64px;font-size:6.6px;line-height:7.92px;color:#3b4fc8;right:264.00px;text-align:right;">0,00%</div>
<div class="t" style="top:564.03px;font-size:5.95px;line-height:7.14px;color:#2d3fc4;left:122.00px;">Laba Sebelum Pajak</div>
<div class="t" style="top:563.64px;font-size:6.6px;line-height:7.92px;color:#3346cc;right:378.00px;text-align:right;">6.094.605</div>
<div class="t" style="top:563.64px;font-size:6.6px;line-height:7.92px;color:#3346cc;right:343.50px;text-align:right;">630,58%</div>
<div class="t" style="top:563.64px;font-size:6.6px;line-height:7.92px;color:#b5b5b5;right:303.00px;text-align:right;">-</div>
<div class="t" style="top:563.64px;font-size:6.6px;line-height:7.92px;color:#3346cc;right:264.00px;text-align:right;">0,00%</div>
<div class="t" style="top:579.64px;font-size:6.6px;line-height:7.92px;color:#000;font-style:italic;left:122.00px;">Pajak Penghasilan</div>
<div style="left:120.30px;top:588.10px;width:257.70px;height:0.70px;background:#333;"></div>
<div class="t" style="top:579.64px;font-size:6.6px;line-height:7.92px;color:#000;font-style:italic;right:383.00px;text-align:right;">-</div>
<div class="t" style="top:579.64px;font-size:6.6px;line-height:7.92px;color:#000;font-style:italic;right:343.50px;text-align:right;">0,00%</div>
<div class="t" style="top:579.64px;font-size:6.6px;line-height:7.92px;color:#b5b5b5;right:303.00px;text-align:right;">-</div>
<div class="t" style="top:579.64px;font-size:6.6px;line-height:7.92px;color:#111;right:264.00px;text-align:right;">0,00%</div>
<div style="left:120.30px;top:594.00px;width:257.70px;height:10.00px;background:#d6dce6;"></div>
<div style="left:120.30px;top:605.40px;width:257.70px;height:1.50px;background:#6a6a6a;"></div>
<div class="t" style="top:595.04px;font-size:6.6px;line-height:7.92px;color:#1c1cc8;font-weight:bold;left:122.00px;">Laba Bersih</div>
<div class="t" style="top:595.04px;font-size:6.6px;line-height:7.92px;color:#1c1cc8;font-weight:bold;right:378.00px;text-align:right;">6.094.605</div>
<div class="t" style="top:595.04px;font-size:6.6px;line-height:7.92px;color:#1c1cc8;font-weight:bold;right:343.50px;text-align:right;">630,58%</div>
<div class="t" style="top:595.04px;font-size:6.6px;line-height:7.92px;color:#b5b5b5;right:303.00px;text-align:right;">-</div>
<div class="t" style="top:595.04px;font-size:6.6px;line-height:7.92px;color:#1c1cc8;font-weight:bold;right:264.00px;text-align:right;">0,00%</div>
<div style="left:389.00px;top:337.00px;width:229.00px;height:131.50px;background:#fff;box-shadow:inset 0 0 0 0.6px #e4e4e4;"></div>
<div class="t" style="top:343.36px;font-size:6.9px;line-height:8.28px;color:#d8231a;font-weight:bold;left:403.00px;width:200px;text-align:center;">Laba Rugi</div>
<div class="t" style="top:355.58px;font-size:5.7px;line-height:6.84px;color:#505050;right:222.50px;text-align:right;">9.000.000</div>
<div style="left:420.50px;top:358.75px;width:193.50px;height:0.50px;background:#ebebeb;"></div>
<div class="t" style="top:365.38px;font-size:5.7px;line-height:6.84px;color:#505050;right:222.50px;text-align:right;">8.000.000</div>
<div style="left:420.50px;top:368.55px;width:193.50px;height:0.50px;background:#ebebeb;"></div>
<div class="t" style="top:375.18px;font-size:5.7px;line-height:6.84px;color:#505050;right:222.50px;text-align:right;">7.000.000</div>
<div style="left:420.50px;top:378.35px;width:193.50px;height:0.50px;background:#ebebeb;"></div>
<div class="t" style="top:384.98px;font-size:5.7px;line-height:6.84px;color:#505050;right:222.50px;text-align:right;">6.000.000</div>
<div style="left:420.50px;top:388.15px;width:193.50px;height:0.50px;background:#ebebeb;"></div>
<div class="t" style="top:394.78px;font-size:5.7px;line-height:6.84px;color:#505050;right:222.50px;text-align:right;">5.000.000</div>
<div style="left:420.50px;top:397.95px;width:193.50px;height:0.50px;background:#ebebeb;"></div>
<div class="t" style="top:404.58px;font-size:5.7px;line-height:6.84px;color:#505050;right:222.50px;text-align:right;">4.000.000</div>
<div style="left:420.50px;top:407.75px;width:193.50px;height:0.50px;background:#ebebeb;"></div>
<div class="t" style="top:414.38px;font-size:5.7px;line-height:6.84px;color:#505050;right:222.50px;text-align:right;">3.000.000</div>
<div style="left:420.50px;top:417.55px;width:193.50px;height:0.50px;background:#ebebeb;"></div>
<div class="t" style="top:424.18px;font-size:5.7px;line-height:6.84px;color:#505050;right:222.50px;text-align:right;">2.000.000</div>
<div style="left:420.50px;top:427.35px;width:193.50px;height:0.50px;background:#ebebeb;"></div>
<div class="t" style="top:433.98px;font-size:5.7px;line-height:6.84px;color:#505050;right:222.50px;text-align:right;">1.000.000</div>
<div style="left:420.50px;top:437.15px;width:193.50px;height:0.50px;background:#ebebeb;"></div>
<div style="left:420.50px;top:447.00px;width:193.50px;height:0.50px;background:#c8c8c8;"></div>
<div style="left:439.00px;top:364.70px;width:15.00px;height:82.50px;background:#4472c4;"></div>
<div style="left:486.50px;top:440.00px;width:14.60px;height:7.20px;background:#4472c4;"></div>
<div style="left:533.60px;top:431.50px;width:14.60px;height:15.70px;background:#4472c4;"></div>
<div style="left:580.00px;top:388.00px;width:14.60px;height:59.20px;background:#4472c4;"></div>
<div class="t" style="top:355.60px;font-size:5.0px;line-height:6.00px;color:#d8231a;font-weight:bold;left:346.50px;width:200px;text-align:center;">8.466.505</div>
<div class="t" style="top:431.20px;font-size:5.0px;line-height:6.00px;color:#d8231a;font-weight:bold;left:393.80px;width:200px;text-align:center;">746.900</div>
<div class="t" style="top:422.70px;font-size:5.0px;line-height:6.00px;color:#d8231a;font-weight:bold;left:440.90px;width:200px;text-align:center;">1.625.000</div>
<div class="t" style="top:378.80px;font-size:5.0px;line-height:6.00px;color:#d8231a;font-weight:bold;left:487.30px;width:200px;text-align:center;">6.094.605</div>
<div class="t" style="top:451.00px;font-size:5.0px;line-height:6.00px;color:#505050;left:346.50px;width:200px;text-align:center;">Total Pendapatan</div>
<div class="t" style="top:451.00px;font-size:5.0px;line-height:6.00px;color:#505050;left:393.80px;width:200px;text-align:center;">Total Harga Pokok</div>
<div class="t" style="top:458.00px;font-size:5.0px;line-height:6.00px;color:#505050;left:393.80px;width:200px;text-align:center;">Penjualan</div>
<div class="t" style="top:451.00px;font-size:5.0px;line-height:6.00px;color:#505050;left:440.90px;width:200px;text-align:center;">Total Biaya</div>
<div class="t" style="top:458.00px;font-size:5.0px;line-height:6.00px;color:#505050;left:440.90px;width:200px;text-align:center;">Operasional</div>
<div class="t" style="top:451.00px;font-size:5.0px;line-height:6.00px;color:#505050;left:487.30px;width:200px;text-align:center;">Laba Sebelum Pajak</div>
<div style="left:389.00px;top:471.00px;width:229.00px;height:131.50px;background:#fff;box-shadow:inset 0 0 0 0.6px #e4e4e4;"></div>
<div class="t" style="top:476.32px;font-size:7.8px;line-height:9.36px;color:#4a78b8;left:403.00px;width:200px;text-align:center;">Biaya Operasional</div>
<svg style="left:0;top:0;" width="640" height="1190" viewBox="0 0 640 1190"><circle cx="503" cy="544.8" r="43.7" fill="#ed7d31"/><path d="M503,544.8 L482.67,506.12 A43.7,43.7 0 0 1 503,501.09999999999997 Z" fill="#5b9bd5" stroke="#fff" stroke-width="0.6"/><path d="M503,501.09999999999997 L503,544.8" stroke="#fff" stroke-width="0.6"/><path d="M504,500.59999999999997 L542,487.5" stroke="#bbb" stroke-width="0.5" fill="none"/><path d="M502,500.59999999999997 L461,480.5" stroke="#bbb" stroke-width="0.5" fill="none"/><path d="M501,500.79999999999995 L478,497" stroke="#bbb" stroke-width="0.5" fill="none"/></svg>
<div class="t" style="top:476.00px;font-size:5.0px;line-height:6.00px;color:#d8231a;font-weight:bold;left:460.50px;width:200px;text-align:center;">Biaya Gaji</div>
<div class="t" style="top:482.80px;font-size:5.0px;line-height:6.00px;color:#d8231a;font-weight:bold;left:460.50px;width:200px;text-align:center;">dan Upah</div>
<div class="t" style="top:489.60px;font-size:5.0px;line-height:6.00px;color:#d8231a;font-weight:bold;left:460.50px;width:200px;text-align:center;">0%</div>
<div class="t" style="top:472.90px;font-size:5.0px;line-height:6.00px;color:#d8231a;font-weight:bold;left:344.30px;width:200px;text-align:center;">Biaya</div>
<div class="t" style="top:479.50px;font-size:5.0px;line-height:6.00px;color:#d8231a;font-weight:bold;left:344.30px;width:200px;text-align:center;">Operasional</div>
<div class="t" style="top:487.42px;font-size:4.8px;line-height:5.76px;color:#d8231a;font-weight:bold;left:350.00px;width:200px;text-align:center;">ya Pemasaran</div>
<div class="t" style="top:489.42px;font-size:4.8px;line-height:5.76px;color:#d8231a;font-weight:bold;left:341.00px;width:200px;text-align:center;">Lainnya</div>
<div class="t" style="top:494.00px;font-size:5.0px;line-height:6.00px;color:#d8231a;font-weight:bold;left:343.00px;width:200px;text-align:center;">0%</div>
<div class="t" style="top:497.72px;font-size:4.8px;line-height:5.76px;color:#d8231a;font-weight:bold;left:361.50px;width:200px;text-align:center;">Biaya Perbaikan</div>
<div class="t" style="top:498.92px;font-size:4.8px;line-height:5.76px;color:#d8231a;font-weight:bold;left:361.50px;width:200px;text-align:center;">Biaya Penyusutan</div>
<div class="t" style="top:504.00px;font-size:5.0px;line-height:6.00px;color:#d8231a;font-weight:bold;left:362.70px;width:200px;text-align:center;">0%</div>
<div class="t" style="top:505.20px;font-size:5.0px;line-height:6.00px;color:#d8231a;font-weight:bold;left:362.70px;width:200px;text-align:center;">8%</div>
<div class="t" style="top:563.04px;font-size:4.6px;line-height:5.52px;color:#d8231a;font-weight:bold;left:421.50px;width:200px;text-align:center;">Biaya Kantor</div>
<div class="t" style="top:569.84px;font-size:4.6px;line-height:5.52px;color:#d8231a;font-weight:bold;left:421.50px;width:200px;text-align:center;">92%</div>
<div style="left:0.00px;top:621.20px;width:115.70px;height:236.80px;background:#076cc5;"></div>
<div style="left:6.50px;top:629.00px;width:98.20px;height:21.00px;background:#4472c4;box-shadow:inset 0 0 0 1px #9fc8ee;"></div>
<div class="t" style="top:636.02px;font-size:5.8px;line-height:6.96px;color:#eef3fb;left:6.50px;width:98.2px;text-align:center;">Dashboard</div>
<div style="left:6.50px;top:684.20px;width:98.20px;height:19.60px;background:#4472c4;box-shadow:inset 0 0 0 1px #9fc8ee;"></div>
<div class="t" style="top:690.52px;font-size:5.8px;line-height:6.96px;color:#eef3fb;left:6.50px;width:98.2px;text-align:center;">General Jurnal</div>
<div style="left:6.50px;top:707.80px;width:98.20px;height:19.50px;background:#4472c4;box-shadow:inset 0 0 0 1px #9fc8ee;"></div>
<div class="t" style="top:714.07px;font-size:5.8px;line-height:6.96px;color:#eef3fb;left:6.50px;width:98.2px;text-align:center;">Transaksi Penjualan</div>
<div style="left:6.50px;top:730.70px;width:98.20px;height:19.70px;background:#ed7d31;box-shadow:inset 0 0 0 1px #f6b98a;"></div>
<div class="t" style="top:737.07px;font-size:5.8px;line-height:6.96px;color:#eef3fb;left:6.50px;width:98.2px;text-align:center;">Transaksi Pembelian</div>
<div style="left:6.50px;top:754.00px;width:98.20px;height:18.00px;background:#4472c4;box-shadow:inset 0 0 0 1px #9fc8ee;"></div>
<div class="t" style="top:759.52px;font-size:5.8px;line-height:6.96px;color:#eef3fb;left:6.50px;width:98.2px;text-align:center;">Transaksi Kas Masuk</div>
<div style="left:6.50px;top:774.40px;width:98.20px;height:18.20px;background:#4472c4;box-shadow:inset 0 0 0 1px #9fc8ee;"></div>
<div class="t" style="top:780.02px;font-size:5.8px;line-height:6.96px;color:#eef3fb;left:6.50px;width:98.2px;text-align:center;">Transaksi Kas Keluar</div>
<div style="left:115.70px;top:631.30px;width:52.60px;height:226.70px;background:#fff2cc;"></div>
<div style="left:168.30px;top:631.30px;width:63.50px;height:226.70px;background:#fff2cc;"></div>
<div style="left:231.80px;top:631.30px;width:57.00px;height:226.70px;background:#fff2cc;"></div>
<div style="left:288.80px;top:631.30px;width:36.50px;height:226.70px;background:#fff2cc;"></div>
<div style="left:325.30px;top:631.30px;width:52.00px;height:226.70px;background:#fff2cc;"></div>
<div style="left:377.30px;top:631.30px;width:46.20px;height:226.70px;background:#eeeeee;"></div>
<div style="left:423.50px;top:631.30px;width:28.00px;height:226.70px;background:#fff2cc;"></div>
<div style="left:451.50px;top:631.30px;width:42.50px;height:226.70px;background:#eeeeee;"></div>
<div style="left:494.00px;top:631.30px;width:51.50px;height:226.70px;background:#eeeeee;"></div>
<div style="left:545.50px;top:631.30px;width:66.50px;height:226.70px;background:#fff2cc;"></div>
<div style="left:612.00px;top:631.30px;width:28.30px;height:226.70px;background:#c6e0b4;"></div>
<div style="left:115.70px;top:621.00px;width:524.30px;height:10.50px;background:#4472c4;"></div>
<div class="t" style="top:623.96px;font-size:5.4px;line-height:6.48px;color:#fff;font-weight:bold;left:117.60px;">COA Expenses</div>
<div style="left:160.40px;top:623.10px;width:7.2px;height:7.2px;background:#f6f6f6;box-shadow:inset 0 0 0 0.5px #aaa;"></div>
<div style="left:162.40px;top:626.20px;width:0;height:0;border-left:1.6px solid transparent;border-right:1.6px solid transparent;border-top:2px solid #555;"></div>
<div class="t" style="top:623.69px;font-size:5.85px;line-height:7.02px;color:#fff;font-weight:bold;left:170.20px;">Nama Supplier</div>
<div style="left:223.90px;top:623.10px;width:7.2px;height:7.2px;background:#f6f6f6;box-shadow:inset 0 0 0 0.5px #aaa;"></div>
<div style="left:225.90px;top:626.20px;width:0;height:0;border-left:1.6px solid transparent;border-right:1.6px solid transparent;border-top:2px solid #555;"></div>
<div class="t" style="top:623.69px;font-size:5.85px;line-height:7.02px;color:#fff;font-weight:bold;left:233.70px;">Nama Barang</div>
<div style="left:280.90px;top:623.10px;width:7.2px;height:7.2px;background:#f6f6f6;box-shadow:inset 0 0 0 0.5px #aaa;"></div>
<div style="left:282.90px;top:626.20px;width:0;height:0;border-left:1.6px solid transparent;border-right:1.6px solid transparent;border-top:2px solid #555;"></div>
<div class="t" style="top:624.02px;font-size:5.3px;line-height:6.36px;color:#fff;font-weight:bold;left:273.55px;width:60px;text-align:center;">Jumlah</div>
<div style="left:317.40px;top:623.10px;width:7.2px;height:7.2px;background:#f6f6f6;box-shadow:inset 0 0 0 0.5px #aaa;"></div>
<div style="left:319.40px;top:626.20px;width:0;height:0;border-left:1.6px solid transparent;border-right:1.6px solid transparent;border-top:2px solid #555;"></div>
<div class="t" style="top:623.69px;font-size:5.85px;line-height:7.02px;color:#fff;font-weight:bold;left:327.20px;">Harga Satuan</div>
<div style="left:369.40px;top:623.10px;width:7.2px;height:7.2px;background:#f6f6f6;box-shadow:inset 0 0 0 0.5px #aaa;"></div>
<div style="left:371.40px;top:626.20px;width:0;height:0;border-left:1.6px solid transparent;border-right:1.6px solid transparent;border-top:2px solid #555;"></div>
<div class="t" style="top:623.69px;font-size:5.85px;line-height:7.02px;color:#fff;font-weight:bold;left:380.50px;">Total</div>
<div style="left:415.60px;top:623.10px;width:7.2px;height:7.2px;background:#f6f6f6;box-shadow:inset 0 0 0 0.5px #aaa;"></div>
<div style="left:417.60px;top:626.20px;width:0;height:0;border-left:1.6px solid transparent;border-right:1.6px solid transparent;border-top:2px solid #555;"></div>
<div class="t" style="top:623.96px;font-size:5.4px;line-height:6.48px;color:#fff;font-weight:bold;left:425.40px;">PPn%</div>
<div style="left:443.60px;top:623.10px;width:7.2px;height:7.2px;background:#f6f6f6;box-shadow:inset 0 0 0 0.5px #aaa;"></div>
<div style="left:445.60px;top:626.20px;width:0;height:0;border-left:1.6px solid transparent;border-right:1.6px solid transparent;border-top:2px solid #555;"></div>
<div class="t" style="top:623.69px;font-size:5.85px;line-height:7.02px;color:#fff;font-weight:bold;left:453.40px;">PPN</div>
<div style="left:486.10px;top:623.10px;width:7.2px;height:7.2px;background:#f6f6f6;box-shadow:inset 0 0 0 0.5px #aaa;"></div>
<div style="left:488.10px;top:626.20px;width:0;height:0;border-left:1.6px solid transparent;border-right:1.6px solid transparent;border-top:2px solid #555;"></div>
<div class="t" style="top:623.69px;font-size:5.85px;line-height:7.02px;color:#fff;font-weight:bold;left:495.90px;">Total Tagihan</div>
<div style="left:537.60px;top:623.10px;width:7.2px;height:7.2px;background:#f6f6f6;box-shadow:inset 0 0 0 0.5px #aaa;"></div>
<div style="left:539.60px;top:626.20px;width:0;height:0;border-left:1.6px solid transparent;border-right:1.6px solid transparent;border-top:2px solid #555;"></div>
<div class="t" style="top:623.69px;font-size:5.85px;line-height:7.02px;color:#fff;font-weight:bold;left:547.40px;">Keterangan</div>
<div style="left:604.10px;top:623.10px;width:7.2px;height:7.2px;background:#f6f6f6;box-shadow:inset 0 0 0 0.5px #aaa;"></div>
<div style="left:606.10px;top:626.20px;width:0;height:0;border-left:1.6px solid transparent;border-right:1.6px solid transparent;border-top:2px solid #555;"></div>
<div class="t" style="top:623.69px;font-size:5.85px;line-height:7.02px;color:#fff;font-weight:bold;left:613.90px;">Status</div>
<div style="left:632.40px;top:623.10px;width:7.2px;height:7.2px;background:#f6f6f6;box-shadow:inset 0 0 0 0.5px #aaa;"></div>
<div style="left:634.40px;top:626.20px;width:0;height:0;border-left:1.6px solid transparent;border-right:1.6px solid transparent;border-top:2px solid #555;"></div>
<div style="left:160.30px;top:621.20px;width:1.20px;height:1.20px;background:#e00000;"></div>
<div style="left:630.50px;top:621.20px;width:1.80px;height:1.50px;background:#e00000;"></div>
<div style="left:115.70px;top:642.72px;width:52.60px;height:0.60px;background:rgba(150,140,110,0.26);"></div>
<div style="left:168.30px;top:642.72px;width:63.50px;height:0.60px;background:rgba(150,140,110,0.26);"></div>
<div style="left:231.80px;top:642.72px;width:57.00px;height:0.60px;background:rgba(150,140,110,0.26);"></div>
<div style="left:288.80px;top:642.72px;width:36.50px;height:0.60px;background:rgba(150,140,110,0.26);"></div>
<div style="left:325.30px;top:642.72px;width:52.00px;height:0.60px;background:rgba(150,140,110,0.26);"></div>
<div style="left:377.30px;top:642.72px;width:46.20px;height:0.60px;background:rgba(255,255,255,0.5);"></div>
<div style="left:423.50px;top:642.72px;width:28.00px;height:0.60px;background:rgba(150,140,110,0.26);"></div>
<div style="left:451.50px;top:642.72px;width:42.50px;height:0.60px;background:rgba(255,255,255,0.5);"></div>
<div style="left:494.00px;top:642.72px;width:51.50px;height:0.60px;background:rgba(255,255,255,0.5);"></div>
<div style="left:545.50px;top:642.72px;width:66.50px;height:0.60px;background:rgba(150,140,110,0.26);"></div>
<div style="left:612.00px;top:642.72px;width:28.30px;height:0.60px;background:rgba(120,150,110,0.22);"></div>
<div style="left:115.70px;top:653.44px;width:52.60px;height:0.60px;background:rgba(150,140,110,0.26);"></div>
<div style="left:168.30px;top:653.44px;width:63.50px;height:0.60px;background:rgba(150,140,110,0.26);"></div>
<div style="left:231.80px;top:653.44px;width:57.00px;height:0.60px;background:rgba(150,140,110,0.26);"></div>
<div style="left:288.80px;top:653.44px;width:36.50px;height:0.60px;background:rgba(150,140,110,0.26);"></div>
<div style="left:325.30px;top:653.44px;width:52.00px;height:0.60px;background:rgba(150,140,110,0.26);"></div>
<div style="left:377.30px;top:653.44px;width:46.20px;height:0.60px;background:rgba(255,255,255,0.5);"></div>
<div style="left:423.50px;top:653.44px;width:28.00px;height:0.60px;background:rgba(150,140,110,0.26);"></div>
<div style="left:451.50px;top:653.44px;width:42.50px;height:0.60px;background:rgba(255,255,255,0.5);"></div>
<div style="left:494.00px;top:653.44px;width:51.50px;height:0.60px;background:rgba(255,255,255,0.5);"></div>
<div style="left:545.50px;top:653.44px;width:66.50px;height:0.60px;background:rgba(150,140,110,0.26);"></div>
<div style="left:612.00px;top:653.44px;width:28.30px;height:0.60px;background:rgba(120,150,110,0.22);"></div>
<div style="left:115.70px;top:664.16px;width:52.60px;height:0.60px;background:rgba(150,140,110,0.26);"></div>
<div style="left:168.30px;top:664.16px;width:63.50px;height:0.60px;background:rgba(150,140,110,0.26);"></div>
<div style="left:231.80px;top:664.16px;width:57.00px;height:0.60px;background:rgba(150,140,110,0.26);"></div>
<div style="left:288.80px;top:664.16px;width:36.50px;height:0.60px;background:rgba(150,140,110,0.26);"></div>
<div style="left:325.30px;top:664.16px;width:52.00px;height:0.60px;background:rgba(150,140,110,0.26);"></div>
<div style="left:377.30px;top:664.16px;width:46.20px;height:0.60px;background:rgba(255,255,255,0.5);"></div>
<div style="left:423.50px;top:664.16px;width:28.00px;height:0.60px;background:rgba(150,140,110,0.26);"></div>
<div style="left:451.50px;top:664.16px;width:42.50px;height:0.60px;background:rgba(255,255,255,0.5);"></div>
<div style="left:494.00px;top:664.16px;width:51.50px;height:0.60px;background:rgba(255,255,255,0.5);"></div>
<div style="left:545.50px;top:664.16px;width:66.50px;height:0.60px;background:rgba(150,140,110,0.26);"></div>
<div style="left:612.00px;top:664.16px;width:28.30px;height:0.60px;background:rgba(120,150,110,0.22);"></div>
<div style="left:115.70px;top:674.88px;width:52.60px;height:0.60px;background:rgba(150,140,110,0.26);"></div>
<div style="left:168.30px;top:674.88px;width:63.50px;height:0.60px;background:rgba(150,140,110,0.26);"></div>
<div style="left:231.80px;top:674.88px;width:57.00px;height:0.60px;background:rgba(150,140,110,0.26);"></div>
<div style="left:288.80px;top:674.88px;width:36.50px;height:0.60px;background:rgba(150,140,110,0.26);"></div>
<div style="left:325.30px;top:674.88px;width:52.00px;height:0.60px;background:rgba(150,140,110,0.26);"></div>
<div style="left:377.30px;top:674.88px;width:46.20px;height:0.60px;background:rgba(255,255,255,0.5);"></div>
<div style="left:423.50px;top:674.88px;width:28.00px;height:0.60px;background:rgba(150,140,110,0.26);"></div>
<div style="left:451.50px;top:674.88px;width:42.50px;height:0.60px;background:rgba(255,255,255,0.5);"></div>
<div style="left:494.00px;top:674.88px;width:51.50px;height:0.60px;background:rgba(255,255,255,0.5);"></div>
<div style="left:545.50px;top:674.88px;width:66.50px;height:0.60px;background:rgba(150,140,110,0.26);"></div>
<div style="left:612.00px;top:674.88px;width:28.30px;height:0.60px;background:rgba(120,150,110,0.22);"></div>
<div style="left:115.70px;top:685.60px;width:52.60px;height:0.60px;background:rgba(150,140,110,0.26);"></div>
<div style="left:168.30px;top:685.60px;width:63.50px;height:0.60px;background:rgba(150,140,110,0.26);"></div>
<div style="left:231.80px;top:685.60px;width:57.00px;height:0.60px;background:rgba(150,140,110,0.26);"></div>
<div style="left:288.80px;top:685.60px;width:36.50px;height:0.60px;background:rgba(150,140,110,0.26);"></div>
<div style="left:325.30px;top:685.60px;width:52.00px;height:0.60px;background:rgba(150,140,110,0.26);"></div>
<div style="left:377.30px;top:685.60px;width:46.20px;height:0.60px;background:rgba(255,255,255,0.5);"></div>
<div style="left:423.50px;top:685.60px;width:28.00px;height:0.60px;background:rgba(150,140,110,0.26);"></div>
<div style="left:451.50px;top:685.60px;width:42.50px;height:0.60px;background:rgba(255,255,255,0.5);"></div>
<div style="left:494.00px;top:685.60px;width:51.50px;height:0.60px;background:rgba(255,255,255,0.5);"></div>
<div style="left:545.50px;top:685.60px;width:66.50px;height:0.60px;background:rgba(150,140,110,0.26);"></div>
<div style="left:612.00px;top:685.60px;width:28.30px;height:0.60px;background:rgba(120,150,110,0.22);"></div>
<div style="left:115.70px;top:696.32px;width:52.60px;height:0.60px;background:rgba(150,140,110,0.26);"></div>
<div style="left:168.30px;top:696.32px;width:63.50px;height:0.60px;background:rgba(150,140,110,0.26);"></div>
<div style="left:231.80px;top:696.32px;width:57.00px;height:0.60px;background:rgba(150,140,110,0.26);"></div>
<div style="left:288.80px;top:696.32px;width:36.50px;height:0.60px;background:rgba(150,140,110,0.26);"></div>
<div style="left:325.30px;top:696.32px;width:52.00px;height:0.60px;background:rgba(150,140,110,0.26);"></div>
<div style="left:377.30px;top:696.32px;width:46.20px;height:0.60px;background:rgba(255,255,255,0.5);"></div>
<div style="left:423.50px;top:696.32px;width:28.00px;height:0.60px;background:rgba(150,140,110,0.26);"></div>
<div style="left:451.50px;top:696.32px;width:42.50px;height:0.60px;background:rgba(255,255,255,0.5);"></div>
<div style="left:494.00px;top:696.32px;width:51.50px;height:0.60px;background:rgba(255,255,255,0.5);"></div>
<div style="left:545.50px;top:696.32px;width:66.50px;height:0.60px;background:rgba(150,140,110,0.26);"></div>
<div style="left:612.00px;top:696.32px;width:28.30px;height:0.60px;background:rgba(120,150,110,0.22);"></div>
<div style="left:115.70px;top:707.04px;width:52.60px;height:0.60px;background:rgba(150,140,110,0.26);"></div>
<div style="left:168.30px;top:707.04px;width:63.50px;height:0.60px;background:rgba(150,140,110,0.26);"></div>
<div style="left:231.80px;top:707.04px;width:57.00px;height:0.60px;background:rgba(150,140,110,0.26);"></div>
<div style="left:288.80px;top:707.04px;width:36.50px;height:0.60px;background:rgba(150,140,110,0.26);"></div>
<div style="left:325.30px;top:707.04px;width:52.00px;height:0.60px;background:rgba(150,140,110,0.26);"></div>
<div style="left:377.30px;top:707.04px;width:46.20px;height:0.60px;background:rgba(255,255,255,0.5);"></div>
<div style="left:423.50px;top:707.04px;width:28.00px;height:0.60px;background:rgba(150,140,110,0.26);"></div>
<div style="left:451.50px;top:707.04px;width:42.50px;height:0.60px;background:rgba(255,255,255,0.5);"></div>
<div style="left:494.00px;top:707.04px;width:51.50px;height:0.60px;background:rgba(255,255,255,0.5);"></div>
<div style="left:545.50px;top:707.04px;width:66.50px;height:0.60px;background:rgba(150,140,110,0.26);"></div>
<div style="left:612.00px;top:707.04px;width:28.30px;height:0.60px;background:rgba(120,150,110,0.22);"></div>
<div style="left:115.70px;top:717.76px;width:52.60px;height:0.60px;background:rgba(150,140,110,0.26);"></div>
<div style="left:168.30px;top:717.76px;width:63.50px;height:0.60px;background:rgba(150,140,110,0.26);"></div>
<div style="left:231.80px;top:717.76px;width:57.00px;height:0.60px;background:rgba(150,140,110,0.26);"></div>
<div style="left:288.80px;top:717.76px;width:36.50px;height:0.60px;background:rgba(150,140,110,0.26);"></div>
<div style="left:325.30px;top:717.76px;width:52.00px;height:0.60px;background:rgba(150,140,110,0.26);"></div>
<div style="left:377.30px;top:717.76px;width:46.20px;height:0.60px;background:rgba(255,255,255,0.5);"></div>
<div style="left:423.50px;top:717.76px;width:28.00px;height:0.60px;background:rgba(150,140,110,0.26);"></div>
<div style="left:451.50px;top:717.76px;width:42.50px;height:0.60px;background:rgba(255,255,255,0.5);"></div>
<div style="left:494.00px;top:717.76px;width:51.50px;height:0.60px;background:rgba(255,255,255,0.5);"></div>
<div style="left:545.50px;top:717.76px;width:66.50px;height:0.60px;background:rgba(150,140,110,0.26);"></div>
<div style="left:612.00px;top:717.76px;width:28.30px;height:0.60px;background:rgba(120,150,110,0.22);"></div>
<div style="left:115.70px;top:728.48px;width:52.60px;height:0.60px;background:rgba(150,140,110,0.26);"></div>
<div style="left:168.30px;top:728.48px;width:63.50px;height:0.60px;background:rgba(150,140,110,0.26);"></div>
<div style="left:231.80px;top:728.48px;width:57.00px;height:0.60px;background:rgba(150,140,110,0.26);"></div>
<div style="left:288.80px;top:728.48px;width:36.50px;height:0.60px;background:rgba(150,140,110,0.26);"></div>
<div style="left:325.30px;top:728.48px;width:52.00px;height:0.60px;background:rgba(150,140,110,0.26);"></div>
<div style="left:377.30px;top:728.48px;width:46.20px;height:0.60px;background:rgba(255,255,255,0.5);"></div>
<div style="left:423.50px;top:728.48px;width:28.00px;height:0.60px;background:rgba(150,140,110,0.26);"></div>
<div style="left:451.50px;top:728.48px;width:42.50px;height:0.60px;background:rgba(255,255,255,0.5);"></div>
<div style="left:494.00px;top:728.48px;width:51.50px;height:0.60px;background:rgba(255,255,255,0.5);"></div>
<div style="left:545.50px;top:728.48px;width:66.50px;height:0.60px;background:rgba(150,140,110,0.26);"></div>
<div style="left:612.00px;top:728.48px;width:28.30px;height:0.60px;background:rgba(120,150,110,0.22);"></div>
<div style="left:115.70px;top:739.20px;width:52.60px;height:0.60px;background:rgba(150,140,110,0.26);"></div>
<div style="left:168.30px;top:739.20px;width:63.50px;height:0.60px;background:rgba(150,140,110,0.26);"></div>
<div style="left:231.80px;top:739.20px;width:57.00px;height:0.60px;background:rgba(150,140,110,0.26);"></div>
<div style="left:288.80px;top:739.20px;width:36.50px;height:0.60px;background:rgba(150,140,110,0.26);"></div>
<div style="left:325.30px;top:739.20px;width:52.00px;height:0.60px;background:rgba(150,140,110,0.26);"></div>
<div style="left:377.30px;top:739.20px;width:46.20px;height:0.60px;background:rgba(255,255,255,0.5);"></div>
<div style="left:423.50px;top:739.20px;width:28.00px;height:0.60px;background:rgba(150,140,110,0.26);"></div>
<div style="left:451.50px;top:739.20px;width:42.50px;height:0.60px;background:rgba(255,255,255,0.5);"></div>
<div style="left:494.00px;top:739.20px;width:51.50px;height:0.60px;background:rgba(255,255,255,0.5);"></div>
<div style="left:545.50px;top:739.20px;width:66.50px;height:0.60px;background:rgba(150,140,110,0.26);"></div>
<div style="left:612.00px;top:739.20px;width:28.30px;height:0.60px;background:rgba(120,150,110,0.22);"></div>
<div style="left:115.70px;top:749.92px;width:52.60px;height:0.60px;background:rgba(150,140,110,0.26);"></div>
<div style="left:168.30px;top:749.92px;width:63.50px;height:0.60px;background:rgba(150,140,110,0.26);"></div>
<div style="left:231.80px;top:749.92px;width:57.00px;height:0.60px;background:rgba(150,140,110,0.26);"></div>
<div style="left:288.80px;top:749.92px;width:36.50px;height:0.60px;background:rgba(150,140,110,0.26);"></div>
<div style="left:325.30px;top:749.92px;width:52.00px;height:0.60px;background:rgba(150,140,110,0.26);"></div>
<div style="left:377.30px;top:749.92px;width:46.20px;height:0.60px;background:rgba(255,255,255,0.5);"></div>
<div style="left:423.50px;top:749.92px;width:28.00px;height:0.60px;background:rgba(150,140,110,0.26);"></div>
<div style="left:451.50px;top:749.92px;width:42.50px;height:0.60px;background:rgba(255,255,255,0.5);"></div>
<div style="left:494.00px;top:749.92px;width:51.50px;height:0.60px;background:rgba(255,255,255,0.5);"></div>
<div style="left:545.50px;top:749.92px;width:66.50px;height:0.60px;background:rgba(150,140,110,0.26);"></div>
<div style="left:612.00px;top:749.92px;width:28.30px;height:0.60px;background:rgba(120,150,110,0.22);"></div>
<div style="left:115.70px;top:760.64px;width:52.60px;height:0.60px;background:rgba(150,140,110,0.26);"></div>
<div style="left:168.30px;top:760.64px;width:63.50px;height:0.60px;background:rgba(150,140,110,0.26);"></div>
<div style="left:231.80px;top:760.64px;width:57.00px;height:0.60px;background:rgba(150,140,110,0.26);"></div>
<div style="left:288.80px;top:760.64px;width:36.50px;height:0.60px;background:rgba(150,140,110,0.26);"></div>
<div style="left:325.30px;top:760.64px;width:52.00px;height:0.60px;background:rgba(150,140,110,0.26);"></div>
<div style="left:377.30px;top:760.64px;width:46.20px;height:0.60px;background:rgba(255,255,255,0.5);"></div>
<div style="left:423.50px;top:760.64px;width:28.00px;height:0.60px;background:rgba(150,140,110,0.26);"></div>
<div style="left:451.50px;top:760.64px;width:42.50px;height:0.60px;background:rgba(255,255,255,0.5);"></div>
<div style="left:494.00px;top:760.64px;width:51.50px;height:0.60px;background:rgba(255,255,255,0.5);"></div>
<div style="left:545.50px;top:760.64px;width:66.50px;height:0.60px;background:rgba(150,140,110,0.26);"></div>
<div style="left:612.00px;top:760.64px;width:28.30px;height:0.60px;background:rgba(120,150,110,0.22);"></div>
<div style="left:115.70px;top:771.36px;width:52.60px;height:0.60px;background:rgba(150,140,110,0.26);"></div>
<div style="left:168.30px;top:771.36px;width:63.50px;height:0.60px;background:rgba(150,140,110,0.26);"></div>
<div style="left:231.80px;top:771.36px;width:57.00px;height:0.60px;background:rgba(150,140,110,0.26);"></div>
<div style="left:288.80px;top:771.36px;width:36.50px;height:0.60px;background:rgba(150,140,110,0.26);"></div>
<div style="left:325.30px;top:771.36px;width:52.00px;height:0.60px;background:rgba(150,140,110,0.26);"></div>
<div style="left:377.30px;top:771.36px;width:46.20px;height:0.60px;background:rgba(255,255,255,0.5);"></div>
<div style="left:423.50px;top:771.36px;width:28.00px;height:0.60px;background:rgba(150,140,110,0.26);"></div>
<div style="left:451.50px;top:771.36px;width:42.50px;height:0.60px;background:rgba(255,255,255,0.5);"></div>
<div style="left:494.00px;top:771.36px;width:51.50px;height:0.60px;background:rgba(255,255,255,0.5);"></div>
<div style="left:545.50px;top:771.36px;width:66.50px;height:0.60px;background:rgba(150,140,110,0.26);"></div>
<div style="left:612.00px;top:771.36px;width:28.30px;height:0.60px;background:rgba(120,150,110,0.22);"></div>
<div style="left:115.70px;top:782.08px;width:52.60px;height:0.60px;background:rgba(150,140,110,0.26);"></div>
<div style="left:168.30px;top:782.08px;width:63.50px;height:0.60px;background:rgba(150,140,110,0.26);"></div>
<div style="left:231.80px;top:782.08px;width:57.00px;height:0.60px;background:rgba(150,140,110,0.26);"></div>
<div style="left:288.80px;top:782.08px;width:36.50px;height:0.60px;background:rgba(150,140,110,0.26);"></div>
<div style="left:325.30px;top:782.08px;width:52.00px;height:0.60px;background:rgba(150,140,110,0.26);"></div>
<div style="left:377.30px;top:782.08px;width:46.20px;height:0.60px;background:rgba(255,255,255,0.5);"></div>
<div style="left:423.50px;top:782.08px;width:28.00px;height:0.60px;background:rgba(150,140,110,0.26);"></div>
<div style="left:451.50px;top:782.08px;width:42.50px;height:0.60px;background:rgba(255,255,255,0.5);"></div>
<div style="left:494.00px;top:782.08px;width:51.50px;height:0.60px;background:rgba(255,255,255,0.5);"></div>
<div style="left:545.50px;top:782.08px;width:66.50px;height:0.60px;background:rgba(150,140,110,0.26);"></div>
<div style="left:612.00px;top:782.08px;width:28.30px;height:0.60px;background:rgba(120,150,110,0.22);"></div>
<div style="left:115.70px;top:792.80px;width:52.60px;height:0.60px;background:rgba(150,140,110,0.26);"></div>
<div style="left:168.30px;top:792.80px;width:63.50px;height:0.60px;background:rgba(150,140,110,0.26);"></div>
<div style="left:231.80px;top:792.80px;width:57.00px;height:0.60px;background:rgba(150,140,110,0.26);"></div>
<div style="left:288.80px;top:792.80px;width:36.50px;height:0.60px;background:rgba(150,140,110,0.26);"></div>
<div style="left:325.30px;top:792.80px;width:52.00px;height:0.60px;background:rgba(150,140,110,0.26);"></div>
<div style="left:377.30px;top:792.80px;width:46.20px;height:0.60px;background:rgba(255,255,255,0.5);"></div>
<div style="left:423.50px;top:792.80px;width:28.00px;height:0.60px;background:rgba(150,140,110,0.26);"></div>
<div style="left:451.50px;top:792.80px;width:42.50px;height:0.60px;background:rgba(255,255,255,0.5);"></div>
<div style="left:494.00px;top:792.80px;width:51.50px;height:0.60px;background:rgba(255,255,255,0.5);"></div>
<div style="left:545.50px;top:792.80px;width:66.50px;height:0.60px;background:rgba(150,140,110,0.26);"></div>
<div style="left:612.00px;top:792.80px;width:28.30px;height:0.60px;background:rgba(120,150,110,0.22);"></div>
<div style="left:115.70px;top:803.52px;width:52.60px;height:0.60px;background:rgba(150,140,110,0.26);"></div>
<div style="left:168.30px;top:803.52px;width:63.50px;height:0.60px;background:rgba(150,140,110,0.26);"></div>
<div style="left:231.80px;top:803.52px;width:57.00px;height:0.60px;background:rgba(150,140,110,0.26);"></div>
<div style="left:288.80px;top:803.52px;width:36.50px;height:0.60px;background:rgba(150,140,110,0.26);"></div>
<div style="left:325.30px;top:803.52px;width:52.00px;height:0.60px;background:rgba(150,140,110,0.26);"></div>
<div style="left:377.30px;top:803.52px;width:46.20px;height:0.60px;background:rgba(255,255,255,0.5);"></div>
<div style="left:423.50px;top:803.52px;width:28.00px;height:0.60px;background:rgba(150,140,110,0.26);"></div>
<div style="left:451.50px;top:803.52px;width:42.50px;height:0.60px;background:rgba(255,255,255,0.5);"></div>
<div style="left:494.00px;top:803.52px;width:51.50px;height:0.60px;background:rgba(255,255,255,0.5);"></div>
<div style="left:545.50px;top:803.52px;width:66.50px;height:0.60px;background:rgba(150,140,110,0.26);"></div>
<div style="left:612.00px;top:803.52px;width:28.30px;height:0.60px;background:rgba(120,150,110,0.22);"></div>
<div style="left:115.70px;top:814.24px;width:52.60px;height:0.60px;background:rgba(150,140,110,0.26);"></div>
<div style="left:168.30px;top:814.24px;width:63.50px;height:0.60px;background:rgba(150,140,110,0.26);"></div>
<div style="left:231.80px;top:814.24px;width:57.00px;height:0.60px;background:rgba(150,140,110,0.26);"></div>
<div style="left:288.80px;top:814.24px;width:36.50px;height:0.60px;background:rgba(150,140,110,0.26);"></div>
<div style="left:325.30px;top:814.24px;width:52.00px;height:0.60px;background:rgba(150,140,110,0.26);"></div>
<div style="left:377.30px;top:814.24px;width:46.20px;height:0.60px;background:rgba(255,255,255,0.5);"></div>
<div style="left:423.50px;top:814.24px;width:28.00px;height:0.60px;background:rgba(150,140,110,0.26);"></div>
<div style="left:451.50px;top:814.24px;width:42.50px;height:0.60px;background:rgba(255,255,255,0.5);"></div>
<div style="left:494.00px;top:814.24px;width:51.50px;height:0.60px;background:rgba(255,255,255,0.5);"></div>
<div style="left:545.50px;top:814.24px;width:66.50px;height:0.60px;background:rgba(150,140,110,0.26);"></div>
<div style="left:612.00px;top:814.24px;width:28.30px;height:0.60px;background:rgba(120,150,110,0.22);"></div>
<div style="left:115.70px;top:824.96px;width:52.60px;height:0.60px;background:rgba(150,140,110,0.26);"></div>
<div style="left:168.30px;top:824.96px;width:63.50px;height:0.60px;background:rgba(150,140,110,0.26);"></div>
<div style="left:231.80px;top:824.96px;width:57.00px;height:0.60px;background:rgba(150,140,110,0.26);"></div>
<div style="left:288.80px;top:824.96px;width:36.50px;height:0.60px;background:rgba(150,140,110,0.26);"></div>
<div style="left:325.30px;top:824.96px;width:52.00px;height:0.60px;background:rgba(150,140,110,0.26);"></div>
<div style="left:377.30px;top:824.96px;width:46.20px;height:0.60px;background:rgba(255,255,255,0.5);"></div>
<div style="left:423.50px;top:824.96px;width:28.00px;height:0.60px;background:rgba(150,140,110,0.26);"></div>
<div style="left:451.50px;top:824.96px;width:42.50px;height:0.60px;background:rgba(255,255,255,0.5);"></div>
<div style="left:494.00px;top:824.96px;width:51.50px;height:0.60px;background:rgba(255,255,255,0.5);"></div>
<div style="left:545.50px;top:824.96px;width:66.50px;height:0.60px;background:rgba(150,140,110,0.26);"></div>
<div style="left:612.00px;top:824.96px;width:28.30px;height:0.60px;background:rgba(120,150,110,0.22);"></div>
<div style="left:115.70px;top:835.68px;width:52.60px;height:0.60px;background:rgba(150,140,110,0.26);"></div>
<div style="left:168.30px;top:835.68px;width:63.50px;height:0.60px;background:rgba(150,140,110,0.26);"></div>
<div style="left:231.80px;top:835.68px;width:57.00px;height:0.60px;background:rgba(150,140,110,0.26);"></div>
<div style="left:288.80px;top:835.68px;width:36.50px;height:0.60px;background:rgba(150,140,110,0.26);"></div>
<div style="left:325.30px;top:835.68px;width:52.00px;height:0.60px;background:rgba(150,140,110,0.26);"></div>
<div style="left:377.30px;top:835.68px;width:46.20px;height:0.60px;background:rgba(255,255,255,0.5);"></div>
<div style="left:423.50px;top:835.68px;width:28.00px;height:0.60px;background:rgba(150,140,110,0.26);"></div>
<div style="left:451.50px;top:835.68px;width:42.50px;height:0.60px;background:rgba(255,255,255,0.5);"></div>
<div style="left:494.00px;top:835.68px;width:51.50px;height:0.60px;background:rgba(255,255,255,0.5);"></div>
<div style="left:545.50px;top:835.68px;width:66.50px;height:0.60px;background:rgba(150,140,110,0.26);"></div>
<div style="left:612.00px;top:835.68px;width:28.30px;height:0.60px;background:rgba(120,150,110,0.22);"></div>
<div style="left:115.70px;top:846.40px;width:52.60px;height:0.60px;background:rgba(150,140,110,0.26);"></div>
<div style="left:168.30px;top:846.40px;width:63.50px;height:0.60px;background:rgba(150,140,110,0.26);"></div>
<div style="left:231.80px;top:846.40px;width:57.00px;height:0.60px;background:rgba(150,140,110,0.26);"></div>
<div style="left:288.80px;top:846.40px;width:36.50px;height:0.60px;background:rgba(150,140,110,0.26);"></div>
<div style="left:325.30px;top:846.40px;width:52.00px;height:0.60px;background:rgba(150,140,110,0.26);"></div>
<div style="left:377.30px;top:846.40px;width:46.20px;height:0.60px;background:rgba(255,255,255,0.5);"></div>
<div style="left:423.50px;top:846.40px;width:28.00px;height:0.60px;background:rgba(150,140,110,0.26);"></div>
<div style="left:451.50px;top:846.40px;width:42.50px;height:0.60px;background:rgba(255,255,255,0.5);"></div>
<div style="left:494.00px;top:846.40px;width:51.50px;height:0.60px;background:rgba(255,255,255,0.5);"></div>
<div style="left:545.50px;top:846.40px;width:66.50px;height:0.60px;background:rgba(150,140,110,0.26);"></div>
<div style="left:612.00px;top:846.40px;width:28.30px;height:0.60px;background:rgba(120,150,110,0.22);"></div>
<div style="left:115.70px;top:857.12px;width:52.60px;height:0.60px;background:rgba(150,140,110,0.26);"></div>
<div style="left:168.30px;top:857.12px;width:63.50px;height:0.60px;background:rgba(150,140,110,0.26);"></div>
<div style="left:231.80px;top:857.12px;width:57.00px;height:0.60px;background:rgba(150,140,110,0.26);"></div>
<div style="left:288.80px;top:857.12px;width:36.50px;height:0.60px;background:rgba(150,140,110,0.26);"></div>
<div style="left:325.30px;top:857.12px;width:52.00px;height:0.60px;background:rgba(150,140,110,0.26);"></div>
<div style="left:377.30px;top:857.12px;width:46.20px;height:0.60px;background:rgba(255,255,255,0.5);"></div>
<div style="left:423.50px;top:857.12px;width:28.00px;height:0.60px;background:rgba(150,140,110,0.26);"></div>
<div style="left:451.50px;top:857.12px;width:42.50px;height:0.60px;background:rgba(255,255,255,0.5);"></div>
<div style="left:494.00px;top:857.12px;width:51.50px;height:0.60px;background:rgba(255,255,255,0.5);"></div>
<div style="left:545.50px;top:857.12px;width:66.50px;height:0.60px;background:rgba(150,140,110,0.26);"></div>
<div style="left:612.00px;top:857.12px;width:28.30px;height:0.60px;background:rgba(120,150,110,0.22);"></div>
<div class="t" style="top:634.22px;font-size:5.9px;line-height:7.08px;color:#222;left:117.30px;"></div>
<div class="t" style="top:635.42px;font-size:5.9px;line-height:7.08px;color:#222;left:169.90px;">PT NIKE</div>
<div class="t" style="top:635.42px;font-size:5.9px;line-height:7.08px;color:#222;left:234.00px;">Baju</div>
<div class="t" style="top:635.36px;font-size:6.0px;line-height:7.20px;color:#222;right:316.70px;text-align:right;">500,45</div>
<div class="t" style="top:635.36px;font-size:6.0px;line-height:7.20px;color:#222;right:264.70px;text-align:right;">30.000,00</div>
<div class="t" style="top:635.36px;font-size:6.0px;line-height:7.20px;color:#c8c8c8;right:219.00px;text-align:right;">15.013.500,00</div>
<div class="t" style="top:635.60px;font-size:5.6px;line-height:6.72px;color:#222;right:188.80px;text-align:right;">10%</div>
<div class="t" style="top:635.36px;font-size:6.0px;line-height:7.20px;color:#c8c8c8;right:148.70px;text-align:right;">1.501.350,00</div>
<div class="t" style="top:635.36px;font-size:6.0px;line-height:7.20px;color:#c8c8c8;right:95.80px;text-align:right;">16.514.850,00</div>
<div class="t" style="top:635.33px;font-size:6.05px;line-height:7.26px;color:#222;left:549.00px;"></div>
<div class="t" style="top:644.94px;font-size:5.9px;line-height:7.08px;color:#222;left:117.30px;"></div>
<div class="t" style="top:646.14px;font-size:5.9px;line-height:7.08px;color:#222;left:169.90px;">PT Adidas</div>
<div class="t" style="top:646.14px;font-size:5.9px;line-height:7.08px;color:#222;left:234.00px;">Sepatu</div>
<div class="t" style="top:646.08px;font-size:6.0px;line-height:7.20px;color:#222;right:316.70px;text-align:right;">300,00</div>
<div class="t" style="top:646.08px;font-size:6.0px;line-height:7.20px;color:#222;right:264.70px;text-align:right;">70.000,00</div>
<div class="t" style="top:646.08px;font-size:6.0px;line-height:7.20px;color:#c8c8c8;right:219.00px;text-align:right;">21.000.000,00</div>
<div class="t" style="top:646.32px;font-size:5.6px;line-height:6.72px;color:#222;right:188.80px;text-align:right;">10%</div>
<div class="t" style="top:646.08px;font-size:6.0px;line-height:7.20px;color:#c8c8c8;right:148.70px;text-align:right;">2.100.000,00</div>
<div class="t" style="top:646.08px;font-size:6.0px;line-height:7.20px;color:#c8c8c8;right:95.80px;text-align:right;">23.100.000,00</div>
<div class="t" style="top:646.05px;font-size:6.05px;line-height:7.26px;color:#222;left:549.00px;"></div>
<div class="t" style="top:655.66px;font-size:5.9px;line-height:7.08px;color:#222;left:117.30px;"></div>
<div class="t" style="top:656.86px;font-size:5.9px;line-height:7.08px;color:#222;left:169.90px;">PT NIKE</div>
<div class="t" style="top:656.86px;font-size:5.9px;line-height:7.08px;color:#222;left:234.00px;">Baju</div>
<div class="t" style="top:656.80px;font-size:6.0px;line-height:7.20px;color:#222;right:316.70px;text-align:right;">150,00</div>
<div class="t" style="top:656.80px;font-size:6.0px;line-height:7.20px;color:#222;right:264.70px;text-align:right;">30.000,00</div>
<div class="t" style="top:656.80px;font-size:6.0px;line-height:7.20px;color:#c8c8c8;right:219.00px;text-align:right;">4.500.000,00</div>
<div class="t" style="top:657.04px;font-size:5.6px;line-height:6.72px;color:#222;right:188.80px;text-align:right;">10%</div>
<div class="t" style="top:656.80px;font-size:6.0px;line-height:7.20px;color:#c8c8c8;right:148.70px;text-align:right;">450.000,00</div>
<div class="t" style="top:656.80px;font-size:6.0px;line-height:7.20px;color:#c8c8c8;right:95.80px;text-align:right;">4.950.000,00</div>
<div class="t" style="top:656.77px;font-size:6.05px;line-height:7.26px;color:#222;left:549.00px;"></div>
<div class="t" style="top:666.38px;font-size:5.9px;line-height:7.08px;color:#222;left:117.30px;">Electricity</div>
<div class="t" style="top:667.58px;font-size:5.9px;line-height:7.08px;color:#222;left:169.90px;">PT Metrodata</div>
<div class="t" style="top:667.58px;font-size:5.9px;line-height:7.08px;color:#222;left:234.00px;">Listrik</div>
<div class="t" style="top:667.52px;font-size:6.0px;line-height:7.20px;color:#222;right:316.70px;text-align:right;">1,00</div>
<div class="t" style="top:667.52px;font-size:6.0px;line-height:7.20px;color:#222;right:264.70px;text-align:right;">500.000,00</div>
<div class="t" style="top:667.52px;font-size:6.0px;line-height:7.20px;color:#c8c8c8;right:219.00px;text-align:right;">500.000,00</div>
<div class="t" style="top:667.76px;font-size:5.6px;line-height:6.72px;color:#222;right:188.80px;text-align:right;"></div>
<div class="t" style="top:667.52px;font-size:6.0px;line-height:7.20px;color:#c8c8c8;right:148.70px;text-align:right;"></div>
<div class="t" style="top:667.52px;font-size:6.0px;line-height:7.20px;color:#c8c8c8;right:95.80px;text-align:right;">500.000,00</div>
<div class="t" style="top:667.49px;font-size:6.05px;line-height:7.26px;color:#222;left:549.00px;">Tagihan Listrik Januari</div>
<div class="t" style="top:677.10px;font-size:5.9px;line-height:7.08px;color:#222;left:117.30px;">Inventaris Kantor</div>
<div class="t" style="top:678.30px;font-size:5.9px;line-height:7.08px;color:#222;left:169.90px;">PT SONY Indonesia</div>
<div class="t" style="top:678.30px;font-size:5.9px;line-height:7.08px;color:#222;left:234.00px;">Desktop Komputer</div>
<div class="t" style="top:678.24px;font-size:6.0px;line-height:7.20px;color:#222;right:316.70px;text-align:right;">1,00</div>
<div class="t" style="top:678.24px;font-size:6.0px;line-height:7.20px;color:#222;right:264.70px;text-align:right;">2.500.000,00</div>
<div class="t" style="top:678.24px;font-size:6.0px;line-height:7.20px;color:#c8c8c8;right:219.00px;text-align:right;">2.500.000,00</div>
<div class="t" style="top:678.48px;font-size:5.6px;line-height:6.72px;color:#222;right:188.80px;text-align:right;"></div>
<div class="t" style="top:678.24px;font-size:6.0px;line-height:7.20px;color:#c8c8c8;right:148.70px;text-align:right;"></div>
<div class="t" style="top:678.24px;font-size:6.0px;line-height:7.20px;color:#c8c8c8;right:95.80px;text-align:right;">2.500.000,00</div>
<div class="t" style="top:678.21px;font-size:6.05px;line-height:7.26px;color:#222;left:549.00px;">Komputer Inventaris</div>
<div style="left:0.00px;top:865.60px;width:142.30px;height:324.40px;background:#076cc5;"></div>
<div style="left:5.00px;top:874.00px;width:124.00px;height:22.50px;background:#4472c4;box-shadow:inset 0 0 0 1px #9fc8ee;"></div>
<div class="t" style="top:880.69px;font-size:7.6px;line-height:9.12px;color:#eef3fb;left:5.00px;width:124px;text-align:center;">Dashboard</div>
<div style="left:5.50px;top:928.80px;width:123.80px;height:20.80px;background:#4472c4;box-shadow:inset 0 0 0 1px #9fc8ee;"></div>
<div class="t" style="top:934.64px;font-size:7.6px;line-height:9.12px;color:#eef3fb;left:5.50px;width:123.8px;text-align:center;">Setup Vendor</div>
<div style="left:5.50px;top:952.40px;width:123.80px;height:20.40px;background:#ed7d31;box-shadow:inset 0 0 0 1px #f6b98a;"></div>
<div class="t" style="top:958.04px;font-size:7.6px;line-height:9.12px;color:#eef3fb;left:5.50px;width:123.8px;text-align:center;">Setup Customer</div>
<div style="left:5.50px;top:975.00px;width:123.80px;height:19.80px;background:#4472c4;box-shadow:inset 0 0 0 1px #9fc8ee;"></div>
<div class="t" style="top:980.34px;font-size:7.6px;line-height:9.12px;color:#eef3fb;left:5.50px;width:123.8px;text-align:center;">Setup COA</div>
<div style="left:5.50px;top:997.50px;width:123.80px;height:21.30px;background:#4472c4;box-shadow:inset 0 0 0 1px #9fc8ee;"></div>
<div class="t" style="top:1003.59px;font-size:7.6px;line-height:9.12px;color:#eef3fb;left:5.50px;width:123.8px;text-align:center;">Setup Product</div>
<div style="left:5.50px;top:1020.80px;width:123.80px;height:21.20px;background:#4472c4;box-shadow:inset 0 0 0 1px #9fc8ee;"></div>
<div class="t" style="top:1026.84px;font-size:7.6px;line-height:9.12px;color:#eef3fb;left:5.50px;width:123.8px;text-align:center;">Setup Employee</div>
<div style="left:5.50px;top:1045.00px;width:123.80px;height:20.20px;background:#4472c4;box-shadow:inset 0 0 0 1px #9fc8ee;"></div>
<div class="t" style="top:1050.54px;font-size:7.6px;line-height:9.12px;color:#eef3fb;left:5.50px;width:123.8px;text-align:center;">Setup Lokasi Gudang</div>
<div style="left:5.50px;top:1068.60px;width:123.80px;height:20.70px;background:#4472c4;box-shadow:inset 0 0 0 1px #9fc8ee;"></div>
<div class="t" style="top:1074.39px;font-size:7.6px;line-height:9.12px;color:#eef3fb;left:5.50px;width:123.8px;text-align:center;">Setup Saldo Awal</div>
<div style="left:142.30px;top:865.60px;width:497.70px;height:20.40px;background:#ed7d31;"></div>
<div class="t" style="top:870.69px;font-size:9.35px;line-height:11.22px;color:#fff;left:144.70px;">Master Customer</div>
<div style="left:142.60px;top:885.80px;width:497.40px;height:10.80px;background:#4472c4;"></div>
<div style="left:142.60px;top:896.60px;width:497.40px;height:10.95px;background:#d9e1f2;"></div>
<div style="left:142.60px;top:907.50px;width:497.40px;height:10.95px;background:#fff;"></div>
<div style="left:142.60px;top:918.40px;width:497.40px;height:10.95px;background:#d9e1f2;"></div>
<div style="left:142.60px;top:929.30px;width:497.40px;height:10.95px;background:#fff;"></div>
<div style="left:142.60px;top:940.20px;width:497.40px;height:10.95px;background:#d9e1f2;"></div>
<div style="left:142.60px;top:951.10px;width:497.40px;height:10.95px;background:#fff;"></div>
<div style="left:142.60px;top:962.00px;width:497.40px;height:10.95px;background:#d9e1f2;"></div>
<div style="left:142.60px;top:972.90px;width:497.40px;height:10.95px;background:#fff;"></div>
<div style="left:142.60px;top:983.80px;width:497.40px;height:10.95px;background:#d9e1f2;"></div>
<div style="left:142.60px;top:994.70px;width:497.40px;height:10.95px;background:#fff;"></div>
<div style="left:142.60px;top:1005.60px;width:497.40px;height:10.95px;background:#d9e1f2;"></div>
<div style="left:142.60px;top:1016.50px;width:497.40px;height:10.95px;background:#fff;"></div>
<div style="left:142.60px;top:1027.40px;width:497.40px;height:10.95px;background:#d9e1f2;"></div>
<div style="left:142.60px;top:1038.30px;width:497.40px;height:10.95px;background:#fff;"></div>
<div style="left:142.60px;top:1049.20px;width:497.40px;height:10.95px;background:#d9e1f2;"></div>
<div style="left:142.60px;top:1060.10px;width:497.40px;height:10.95px;background:#fff;"></div>
<div style="left:142.60px;top:1071.00px;width:497.40px;height:10.95px;background:#d9e1f2;"></div>
<div style="left:142.60px;top:1081.90px;width:497.40px;height:10.95px;background:#fff;"></div>
<div style="left:142.60px;top:1092.80px;width:497.40px;height:10.95px;background:#d9e1f2;"></div>
<div style="left:142.60px;top:1103.70px;width:497.40px;height:10.95px;background:#fff;"></div>
<div style="left:142.60px;top:1114.60px;width:497.40px;height:10.95px;background:#d9e1f2;"></div>
<div style="left:142.60px;top:1125.50px;width:497.40px;height:10.95px;background:#fff;"></div>
<div style="left:142.60px;top:1136.40px;width:497.40px;height:10.95px;background:#d9e1f2;"></div>
<div style="left:142.60px;top:1147.30px;width:497.40px;height:10.95px;background:#fff;"></div>
<div style="left:142.60px;top:1158.20px;width:497.40px;height:10.95px;background:#d9e1f2;"></div>
<div style="left:142.60px;top:1169.10px;width:497.40px;height:10.95px;background:#fff;"></div>
<div style="left:142.60px;top:1180.00px;width:497.40px;height:10.95px;background:#d9e1f2;"></div>
<div class="t" style="top:888.30px;font-size:7.0px;line-height:8.40px;color:#fff;font-weight:bold;left:144.30px;">No</div>
<div style="left:157.10px;top:887.10px;width:8.4px;height:8.5px;background:#f6f6f6;box-shadow:inset 0 0 0 0.5px #aaa;"></div>
<div style="left:159.50px;top:890.60px;width:0;height:0;border-left:1.8px solid transparent;border-right:1.8px solid transparent;border-top:2.2px solid #555;"></div>
<div class="t" style="top:888.30px;font-size:7.0px;line-height:8.40px;color:#fff;font-weight:bold;left:167.70px;">Kategory</div>
<div style="left:202.10px;top:887.10px;width:8.4px;height:8.5px;background:#f6f6f6;box-shadow:inset 0 0 0 0.5px #aaa;"></div>
<div style="left:204.50px;top:890.60px;width:0;height:0;border-left:1.8px solid transparent;border-right:1.8px solid transparent;border-top:2.2px solid #555;"></div>
<div class="t" style="top:888.30px;font-size:7.0px;line-height:8.40px;color:#fff;font-weight:bold;left:212.70px;">Cust Class</div>
<div style="left:251.40px;top:887.10px;width:8.4px;height:8.5px;background:#f6f6f6;box-shadow:inset 0 0 0 0.5px #aaa;"></div>
<div style="left:253.80px;top:890.60px;width:0;height:0;border-left:1.8px solid transparent;border-right:1.8px solid transparent;border-top:2.2px solid #555;"></div>
<div class="t" style="top:888.30px;font-size:7.0px;line-height:8.40px;color:#fff;font-weight:bold;left:262.00px;">Kode Customer</div>
<div style="left:320.90px;top:887.10px;width:8.4px;height:8.5px;background:#f6f6f6;box-shadow:inset 0 0 0 0.5px #aaa;"></div>
<div style="left:323.30px;top:890.60px;width:0;height:0;border-left:1.8px solid transparent;border-right:1.8px solid transparent;border-top:2.2px solid #555;"></div>
<div class="t" style="top:888.30px;font-size:7.0px;line-height:8.40px;color:#fff;font-weight:bold;left:331.50px;">Nama Customer</div>
<div style="left:392.90px;top:887.10px;width:8.4px;height:8.5px;background:#f6f6f6;box-shadow:inset 0 0 0 0.5px #aaa;"></div>
<div style="left:395.30px;top:890.60px;width:0;height:0;border-left:1.8px solid transparent;border-right:1.8px solid transparent;border-top:2.2px solid #555;"></div>
<div class="t" style="top:888.30px;font-size:7.0px;line-height:8.40px;color:#fff;font-weight:bold;left:403.50px;">Alamat</div>
<div style="left:464.90px;top:887.10px;width:8.4px;height:8.5px;background:#f6f6f6;box-shadow:inset 0 0 0 0.5px #aaa;"></div>
<div style="left:467.30px;top:890.60px;width:0;height:0;border-left:1.8px solid transparent;border-right:1.8px solid transparent;border-top:2.2px solid #555;"></div>
<div class="t" style="top:888.30px;font-size:7.0px;line-height:8.40px;color:#fff;font-weight:bold;left:475.50px;">Area</div>
<div style="left:515.90px;top:887.10px;width:8.4px;height:8.5px;background:#f6f6f6;box-shadow:inset 0 0 0 0.5px #aaa;"></div>
<div style="left:518.30px;top:890.60px;width:0;height:0;border-left:1.8px solid transparent;border-right:1.8px solid transparent;border-top:2.2px solid #555;"></div>
<div class="t" style="top:888.30px;font-size:7.0px;line-height:8.40px;color:#fff;font-weight:bold;left:526.50px;">No Telp</div>
<div style="left:567.90px;top:887.10px;width:8.4px;height:8.5px;background:#f6f6f6;box-shadow:inset 0 0 0 0.5px #aaa;"></div>
<div style="left:570.30px;top:890.60px;width:0;height:0;border-left:1.8px solid transparent;border-right:1.8px solid transparent;border-top:2.2px solid #555;"></div>
<div class="t" style="top:888.30px;font-size:7.0px;line-height:8.40px;color:#fff;font-weight:bold;left:578.50px;">Email</div>
<div style="left:630.50px;top:887.10px;width:8.4px;height:8.5px;background:#f6f6f6;box-shadow:inset 0 0 0 0.5px #aaa;"></div>
<div style="left:632.90px;top:890.60px;width:0;height:0;border-left:1.8px solid transparent;border-right:1.8px solid transparent;border-top:2.2px solid #555;"></div>
<div class="t" style="top:899.29px;font-size:7.1px;line-height:8.52px;color:#151515;right:474.70px;text-align:right;">1</div>
<div class="t" style="top:899.29px;font-size:7.1px;line-height:8.52px;color:#151515;left:168.30px;">Customer</div>
<div class="t" style="top:899.29px;font-size:7.1px;line-height:8.52px;color:#151515;left:213.30px;">Retail</div>
<div class="t" style="top:899.41px;font-size:6.9px;line-height:8.28px;color:#151515;left:262.50px;">CJKT10001</div>
<div class="t" style="top:899.29px;font-size:7.1px;line-height:8.52px;color:#151515;left:332.00px;">Andara</div>
<div class="t" style="top:899.14px;font-size:7.35px;line-height:8.82px;color:#151515;left:404.00px;">Jakarta - Indonesia</div>
<div class="t" style="top:899.29px;font-size:7.1px;line-height:8.52px;color:#151515;left:476.00px;">Jakarta</div>
<div class="t" style="top:899.17px;font-size:7.3px;line-height:8.76px;color:#151515;left:527.00px;">000-00000000</div>
<div class="t" style="top:899.29px;font-size:7.1px;line-height:8.52px;color:#151515;left:579.00px;">email</div>
<div class="t" style="top:910.19px;font-size:7.1px;line-height:8.52px;color:#151515;right:474.70px;text-align:right;">2</div>
<div class="t" style="top:910.19px;font-size:7.1px;line-height:8.52px;color:#151515;left:168.30px;">Customer</div>
<div class="t" style="top:910.19px;font-size:7.1px;line-height:8.52px;color:#151515;left:213.30px;">Retail</div>
<div class="t" style="top:910.31px;font-size:6.9px;line-height:8.28px;color:#151515;left:262.50px;">CJKT10002</div>
<div class="t" style="top:910.19px;font-size:7.1px;line-height:8.52px;color:#151515;left:332.00px;">Mitra Bersama</div>
<div class="t" style="top:910.04px;font-size:7.35px;line-height:8.82px;color:#151515;left:404.00px;">Jakarta - Indonesia</div>
<div class="t" style="top:910.19px;font-size:7.1px;line-height:8.52px;color:#151515;left:476.00px;">Jakarta</div>
<div class="t" style="top:910.07px;font-size:7.3px;line-height:8.76px;color:#151515;left:527.00px;">000-00000000</div>
<div class="t" style="top:910.19px;font-size:7.1px;line-height:8.52px;color:#151515;left:579.00px;">email</div>
<div class="t" style="top:921.09px;font-size:7.1px;line-height:8.52px;color:#151515;right:474.70px;text-align:right;">3</div>
<div class="t" style="top:921.09px;font-size:7.1px;line-height:8.52px;color:#151515;left:168.30px;">Customer</div>
<div class="t" style="top:921.09px;font-size:7.1px;line-height:8.52px;color:#151515;left:213.30px;">Retail</div>
<div class="t" style="top:921.21px;font-size:6.9px;line-height:8.28px;color:#151515;left:262.50px;">CJKT10003</div>
<div class="t" style="top:921.09px;font-size:7.1px;line-height:8.52px;color:#151515;left:332.00px;">Sejahtera</div>
<div class="t" style="top:920.94px;font-size:7.35px;line-height:8.82px;color:#151515;left:404.00px;">Jakarta - Indonesia</div>
<div class="t" style="top:921.09px;font-size:7.1px;line-height:8.52px;color:#151515;left:476.00px;">Jakarta</div>
<div class="t" style="top:920.97px;font-size:7.3px;line-height:8.76px;color:#151515;left:527.00px;">000-00000000</div>
<div class="t" style="top:921.09px;font-size:7.1px;line-height:8.52px;color:#151515;left:579.00px;">email</div>
<div class="t" style="top:931.99px;font-size:7.1px;line-height:8.52px;color:#151515;right:474.70px;text-align:right;">4</div>
<div class="t" style="top:931.99px;font-size:7.1px;line-height:8.52px;color:#151515;left:168.30px;">Customer</div>
<div class="t" style="top:931.99px;font-size:7.1px;line-height:8.52px;color:#151515;left:213.30px;">Retail</div>
<div class="t" style="top:932.11px;font-size:6.9px;line-height:8.28px;color:#151515;left:262.50px;">CJKT10004</div>
<div class="t" style="top:931.99px;font-size:7.1px;line-height:8.52px;color:#151515;left:332.00px;">Maju Mapan</div>
<div class="t" style="top:931.84px;font-size:7.35px;line-height:8.82px;color:#151515;left:404.00px;">Jakarta - Indonesia</div>
<div class="t" style="top:931.99px;font-size:7.1px;line-height:8.52px;color:#151515;left:476.00px;">Jakarta</div>
<div class="t" style="top:931.87px;font-size:7.3px;line-height:8.76px;color:#151515;left:527.00px;">000-00000000</div>
<div class="t" style="top:931.99px;font-size:7.1px;line-height:8.52px;color:#151515;left:579.00px;">email</div>
<div class="t" style="top:942.89px;font-size:7.1px;line-height:8.52px;color:#151515;right:474.70px;text-align:right;">5</div>
<div class="t" style="top:942.89px;font-size:7.1px;line-height:8.52px;color:#151515;left:168.30px;">Customer</div>
<div class="t" style="top:942.89px;font-size:7.1px;line-height:8.52px;color:#151515;left:213.30px;">Retail</div>
<div class="t" style="top:943.01px;font-size:6.9px;line-height:8.28px;color:#151515;left:262.50px;">CJKT10005</div>
<div class="t" style="top:942.89px;font-size:7.1px;line-height:8.52px;color:#151515;left:332.00px;">Selaras</div>
<div class="t" style="top:942.74px;font-size:7.35px;line-height:8.82px;color:#151515;left:404.00px;">Jakarta - Indonesia</div>
<div class="t" style="top:942.89px;font-size:7.1px;line-height:8.52px;color:#151515;left:476.00px;">Jakarta</div>
<div class="t" style="top:942.77px;font-size:7.3px;line-height:8.76px;color:#151515;left:527.00px;">000-00000000</div>
<div class="t" style="top:942.89px;font-size:7.1px;line-height:8.52px;color:#151515;left:579.00px;">email</div>
<div class="t" style="top:953.79px;font-size:7.1px;line-height:8.52px;color:#151515;right:474.70px;text-align:right;">6</div>
<div class="t" style="top:953.79px;font-size:7.1px;line-height:8.52px;color:#151515;left:168.30px;">Customer</div>
<div class="t" style="top:953.79px;font-size:7.1px;line-height:8.52px;color:#151515;left:213.30px;">Retail</div>
<div class="t" style="top:953.91px;font-size:6.9px;line-height:8.28px;color:#151515;left:262.50px;">CJKT10006</div>
<div class="t" style="top:953.79px;font-size:7.1px;line-height:8.52px;color:#151515;left:332.00px;">Sinar Harapan</div>
<div class="t" style="top:953.64px;font-size:7.35px;line-height:8.82px;color:#151515;left:404.00px;">Jakarta - Indonesia</div>
<div class="t" style="top:953.79px;font-size:7.1px;line-height:8.52px;color:#151515;left:476.00px;">Jakarta</div>
<div class="t" style="top:953.67px;font-size:7.3px;line-height:8.76px;color:#151515;left:527.00px;">000-00000000</div>
<div class="t" style="top:953.79px;font-size:7.1px;line-height:8.52px;color:#151515;left:579.00px;">email</div>
<div class="t" style="top:964.69px;font-size:7.1px;line-height:8.52px;color:#151515;right:474.70px;text-align:right;">7</div>
<div class="t" style="top:964.69px;font-size:7.1px;line-height:8.52px;color:#151515;left:168.30px;">Customer</div>
<div class="t" style="top:964.69px;font-size:7.1px;line-height:8.52px;color:#151515;left:213.30px;">Retail</div>
<div class="t" style="top:964.81px;font-size:6.9px;line-height:8.28px;color:#151515;left:262.50px;">CJKT10007</div>
<div class="t" style="top:964.69px;font-size:7.1px;line-height:8.52px;color:#151515;left:332.00px;">Dunia Baru</div>
<div class="t" style="top:964.54px;font-size:7.35px;line-height:8.82px;color:#151515;left:404.00px;">Jakarta - Indonesia</div>
<div class="t" style="top:964.69px;font-size:7.1px;line-height:8.52px;color:#151515;left:476.00px;">Jakarta</div>
<div class="t" style="top:964.57px;font-size:7.3px;line-height:8.76px;color:#151515;left:527.00px;">000-00000000</div>
<div class="t" style="top:964.69px;font-size:7.1px;line-height:8.52px;color:#151515;left:579.00px;">email</div>
<div class="t" style="top:975.59px;font-size:7.1px;line-height:8.52px;color:#151515;right:474.70px;text-align:right;">8</div>
<div class="t" style="top:975.59px;font-size:7.1px;line-height:8.52px;color:#151515;left:168.30px;">Deposit</div>
<div class="t" style="top:975.59px;font-size:7.1px;line-height:8.52px;color:#151515;left:213.30px;">Olshop</div>
<div class="t" style="top:975.71px;font-size:6.9px;line-height:8.28px;color:#151515;left:262.50px;">OS0001</div>
<div class="t" style="top:975.59px;font-size:7.1px;line-height:8.52px;color:#151515;left:332.00px;">Tokopedia</div>
<div class="t" style="top:975.44px;font-size:7.35px;line-height:8.82px;color:#151515;left:404.00px;">Jakarta - Indonesia</div>
<div class="t" style="top:975.59px;font-size:7.1px;line-height:8.52px;color:#151515;left:476.00px;">Jakarta</div>
<div class="t" style="top:975.47px;font-size:7.3px;line-height:8.76px;color:#151515;left:527.00px;">000-00000000</div>
<div class="t" style="top:975.59px;font-size:7.1px;line-height:8.52px;color:#151515;left:579.00px;">email</div>
<div class="t" style="top:986.49px;font-size:7.1px;line-height:8.52px;color:#151515;right:474.70px;text-align:right;">9</div>
<div class="t" style="top:986.49px;font-size:7.1px;line-height:8.52px;color:#151515;left:168.30px;">Deposit</div>
<div class="t" style="top:986.49px;font-size:7.1px;line-height:8.52px;color:#151515;left:213.30px;">Olshop</div>
<div class="t" style="top:986.61px;font-size:6.9px;line-height:8.28px;color:#151515;left:262.50px;">OS0002</div>
<div class="t" style="top:986.49px;font-size:7.1px;line-height:8.52px;color:#151515;left:332.00px;">BliBli</div>
<div class="t" style="top:986.34px;font-size:7.35px;line-height:8.82px;color:#151515;left:404.00px;">Jakarta - Indonesia</div>
<div class="t" style="top:986.49px;font-size:7.1px;line-height:8.52px;color:#151515;left:476.00px;">Jakarta</div>
<div class="t" style="top:986.37px;font-size:7.3px;line-height:8.76px;color:#151515;left:527.00px;">000-00000000</div>
<div class="t" style="top:986.49px;font-size:7.1px;line-height:8.52px;color:#151515;left:579.00px;">email</div>
<div class="t" style="top:997.39px;font-size:7.1px;line-height:8.52px;color:#151515;right:474.70px;text-align:right;">10</div>
<div class="t" style="top:997.39px;font-size:7.1px;line-height:8.52px;color:#151515;left:168.30px;">Deposit</div>
<div class="t" style="top:997.39px;font-size:7.1px;line-height:8.52px;color:#151515;left:213.30px;">Olshop</div>
<div class="t" style="top:997.51px;font-size:6.9px;line-height:8.28px;color:#151515;left:262.50px;">OS0003</div>
<div class="t" style="top:997.39px;font-size:7.1px;line-height:8.52px;color:#151515;left:332.00px;">JDID</div>
<div class="t" style="top:997.24px;font-size:7.35px;line-height:8.82px;color:#151515;left:404.00px;">Jakarta - Indonesia</div>
<div class="t" style="top:997.39px;font-size:7.1px;line-height:8.52px;color:#151515;left:476.00px;">Jakarta</div>
<div class="t" style="top:997.27px;font-size:7.3px;line-height:8.76px;color:#151515;left:527.00px;">000-00000000</div>
<div class="t" style="top:997.39px;font-size:7.1px;line-height:8.52px;color:#151515;left:579.00px;">email</div>
<div class="t" style="top:1008.29px;font-size:7.1px;line-height:8.52px;color:#151515;right:474.70px;text-align:right;">11</div>
<div class="t" style="top:1008.29px;font-size:7.1px;line-height:8.52px;color:#151515;left:168.30px;">Deposit</div>
<div class="t" style="top:1008.29px;font-size:7.1px;line-height:8.52px;color:#151515;left:213.30px;">Olshop</div>
<div class="t" style="top:1008.41px;font-size:6.9px;line-height:8.28px;color:#151515;left:262.50px;">OS0004</div>
<div class="t" style="top:1008.29px;font-size:7.1px;line-height:8.52px;color:#151515;left:332.00px;">Shopee</div>
<div class="t" style="top:1008.14px;font-size:7.35px;line-height:8.82px;color:#151515;left:404.00px;">Jakarta - Indonesia</div>
<div class="t" style="top:1008.29px;font-size:7.1px;line-height:8.52px;color:#151515;left:476.00px;">Jakarta</div>
<div class="t" style="top:1008.17px;font-size:7.3px;line-height:8.76px;color:#151515;left:527.00px;">000-00000000</div>
<div class="t" style="top:1008.29px;font-size:7.1px;line-height:8.52px;color:#151515;left:579.00px;">email</div>
<div class="t" style="top:1019.19px;font-size:7.1px;line-height:8.52px;color:#151515;right:474.70px;text-align:right;">12</div>
<div class="t" style="top:1030.09px;font-size:7.1px;line-height:8.52px;color:#151515;right:474.70px;text-align:right;">13</div>
<div class="t" style="top:1040.99px;font-size:7.1px;line-height:8.52px;color:#151515;right:474.70px;text-align:right;">14</div>
<div class="t" style="top:1051.89px;font-size:7.1px;line-height:8.52px;color:#151515;right:474.70px;text-align:right;">15</div>
<div class="t" style="top:1062.79px;font-size:7.1px;line-height:8.52px;color:#151515;right:474.70px;text-align:right;">16</div>
<div class="t" style="top:1073.69px;font-size:7.1px;line-height:8.52px;color:#151515;right:474.70px;text-align:right;">17</div>
<div class="t" style="top:1084.59px;font-size:7.1px;line-height:8.52px;color:#151515;right:474.70px;text-align:right;">18</div>
<div class="t" style="top:1095.49px;font-size:7.1px;line-height:8.52px;color:#151515;right:474.70px;text-align:right;">19</div>
<div class="t" style="top:1106.39px;font-size:7.1px;line-height:8.52px;color:#151515;right:474.70px;text-align:right;">20</div>
<div class="t" style="top:1117.29px;font-size:7.1px;line-height:8.52px;color:#151515;right:474.70px;text-align:right;">21</div>
<div class="t" style="top:1128.19px;font-size:7.1px;line-height:8.52px;color:#151515;right:474.70px;text-align:right;">22</div>
<div class="t" style="top:1139.09px;font-size:7.1px;line-height:8.52px;color:#151515;right:474.70px;text-align:right;">23</div>
<div class="t" style="top:1149.99px;font-size:7.1px;line-height:8.52px;color:#151515;right:474.70px;text-align:right;">24</div>
<div class="t" style="top:1160.89px;font-size:7.1px;line-height:8.52px;color:#151515;right:474.70px;text-align:right;">25</div>
<div class="t" style="top:1171.79px;font-size:7.1px;line-height:8.52px;color:#151515;right:474.70px;text-align:right;">26</div>
<div class="t" style="top:1182.69px;font-size:7.1px;line-height:8.52px;color:#151515;right:474.70px;text-align:right;">27</div>
</div></body></html>
